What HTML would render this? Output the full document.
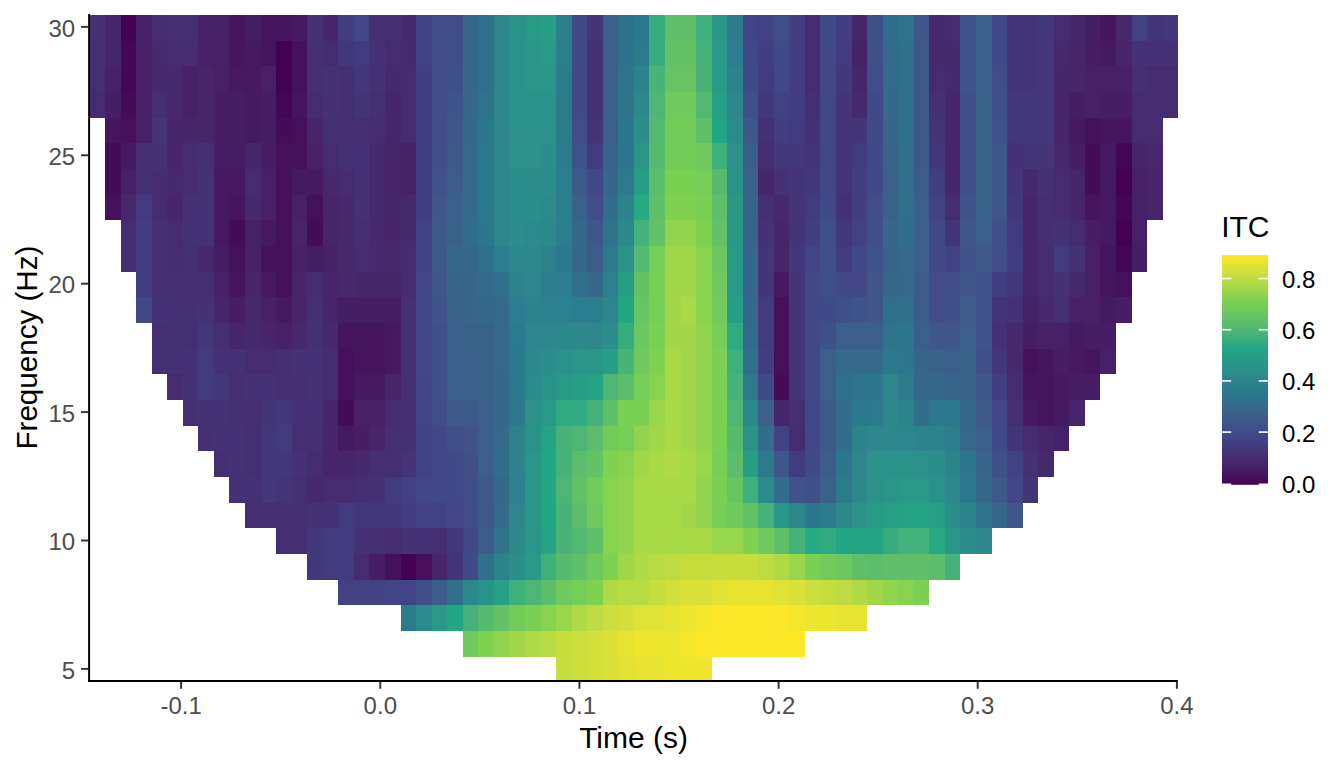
<!DOCTYPE html>
<html><head><meta charset="utf-8"><title>ITC</title>
<style>
html,body{margin:0;padding:0;background:#fff;}
body{width:1344px;height:768px;overflow:hidden;position:relative;font-family:"Liberation Sans",Arial,sans-serif;}
svg{position:absolute;left:0;top:0;}
.tick{font-size:24px;fill:#4d4d4d;}
.leg{font-size:24px;fill:#000;}
.title{font-size:30px;fill:#000;}
.ltitle{font-size:30px;fill:#000;}
</style></head><body>
<svg width="1344" height="768" viewBox="0 0 1344 768">
<defs>
<linearGradient id="vg" x1="0" y1="1" x2="0" y2="0"><stop offset="0.0000" stop-color="#440154"/><stop offset="0.0250" stop-color="#450e5a"/><stop offset="0.0500" stop-color="#451860"/><stop offset="0.0750" stop-color="#462067"/><stop offset="0.1000" stop-color="#46286d"/><stop offset="0.1250" stop-color="#452f73"/><stop offset="0.1500" stop-color="#44367a"/><stop offset="0.1750" stop-color="#433d80"/><stop offset="0.2000" stop-color="#414487"/><stop offset="0.2250" stop-color="#404b88"/><stop offset="0.2500" stop-color="#3f5189"/><stop offset="0.2750" stop-color="#3d588a"/><stop offset="0.3000" stop-color="#3b5e8b"/><stop offset="0.3250" stop-color="#38658c"/><stop offset="0.3500" stop-color="#346b8c"/><stop offset="0.3750" stop-color="#30728d"/><stop offset="0.4000" stop-color="#2a788e"/><stop offset="0.4250" stop-color="#2b7e8d"/><stop offset="0.4500" stop-color="#2c848c"/><stop offset="0.4750" stop-color="#2c8a8b"/><stop offset="0.5000" stop-color="#2b9089"/><stop offset="0.5250" stop-color="#2a9688"/><stop offset="0.5500" stop-color="#289c87"/><stop offset="0.5750" stop-color="#26a285"/><stop offset="0.6000" stop-color="#22a884"/><stop offset="0.6250" stop-color="#36ad7f"/><stop offset="0.6500" stop-color="#44b279"/><stop offset="0.6750" stop-color="#50b773"/><stop offset="0.7000" stop-color="#5abc6d"/><stop offset="0.7250" stop-color="#63c167"/><stop offset="0.7500" stop-color="#6bc760"/><stop offset="0.7750" stop-color="#73cc59"/><stop offset="0.8000" stop-color="#7ad151"/><stop offset="0.8250" stop-color="#8dd44d"/><stop offset="0.8500" stop-color="#9fd749"/><stop offset="0.8750" stop-color="#b0da45"/><stop offset="0.9000" stop-color="#c0dd40"/><stop offset="0.9250" stop-color="#d0e03a"/><stop offset="0.9500" stop-color="#dfe234"/><stop offset="0.9750" stop-color="#eee52d"/><stop offset="1.0000" stop-color="#fde725"/></linearGradient>
</defs>
<g shape-rendering="crispEdges">
<rect x="90" y="15" width="15" height="26" fill="#453276"/>
<rect x="105" y="15" width="16" height="26" fill="#46256a"/>
<rect x="121" y="15" width="15" height="26" fill="#440154"/>
<rect x="136" y="15" width="16" height="26" fill="#462167"/>
<rect x="152" y="15" width="15" height="26" fill="#452c70"/>
<rect x="167" y="15" width="31" height="26" fill="#452f73"/>
<rect x="198" y="15" width="31" height="26" fill="#462167"/>
<rect x="229" y="15" width="16" height="26" fill="#45165f"/>
<rect x="245" y="15" width="16" height="26" fill="#461e65"/>
<rect x="261" y="15" width="31" height="26" fill="#45165f"/>
<rect x="292" y="15" width="15" height="26" fill="#461a62"/>
<rect x="307" y="15" width="16" height="26" fill="#453276"/>
<rect x="323" y="15" width="15" height="26" fill="#46256a"/>
<rect x="338" y="15" width="16" height="26" fill="#433e82"/>
<rect x="354" y="15" width="15" height="26" fill="#414787"/>
<rect x="369" y="15" width="32" height="26" fill="#452f73"/>
<rect x="401" y="15" width="15" height="26" fill="#46286d"/>
<rect x="416" y="15" width="16" height="26" fill="#424184"/>
<rect x="432" y="15" width="31" height="26" fill="#404d88"/>
<rect x="463" y="15" width="15" height="26" fill="#36688c"/>
<rect x="478" y="15" width="16" height="26" fill="#31708d"/>
<rect x="494" y="15" width="15" height="26" fill="#2c868b"/>
<rect x="509" y="15" width="16" height="26" fill="#2a9389"/>
<rect x="525" y="15" width="16" height="26" fill="#299988"/>
<rect x="541" y="15" width="15" height="26" fill="#279e86"/>
<rect x="556" y="15" width="16" height="26" fill="#2b7e8d"/>
<rect x="572" y="15" width="15" height="26" fill="#414787"/>
<rect x="587" y="15" width="16" height="26" fill="#443579"/>
<rect x="603" y="15" width="15" height="26" fill="#3b5f8b"/>
<rect x="618" y="15" width="16" height="26" fill="#31708d"/>
<rect x="634" y="15" width="15" height="26" fill="#2a798e"/>
<rect x="649" y="15" width="16" height="26" fill="#37ad7e"/>
<rect x="665" y="15" width="31" height="26" fill="#60c069"/>
<rect x="696" y="15" width="16" height="26" fill="#3eb07c"/>
<rect x="712" y="15" width="15" height="26" fill="#2a9688"/>
<rect x="727" y="15" width="16" height="26" fill="#2b7b8d"/>
<rect x="743" y="15" width="15" height="26" fill="#414487"/>
<rect x="758" y="15" width="16" height="26" fill="#424184"/>
<rect x="774" y="15" width="15" height="26" fill="#404d88"/>
<rect x="789" y="15" width="16" height="26" fill="#433e82"/>
<rect x="805" y="15" width="15" height="26" fill="#452c70"/>
<rect x="820" y="15" width="16" height="26" fill="#404a88"/>
<rect x="836" y="15" width="16" height="26" fill="#433e82"/>
<rect x="852" y="15" width="15" height="26" fill="#46256a"/>
<rect x="867" y="15" width="16" height="26" fill="#3f5089"/>
<rect x="883" y="15" width="15" height="26" fill="#336d8d"/>
<rect x="898" y="15" width="16" height="26" fill="#2f738d"/>
<rect x="914" y="15" width="15" height="26" fill="#3e568a"/>
<rect x="929" y="15" width="16" height="26" fill="#46286d"/>
<rect x="945" y="15" width="15" height="26" fill="#452c70"/>
<rect x="960" y="15" width="16" height="26" fill="#3e5389"/>
<rect x="976" y="15" width="16" height="26" fill="#3b5f8b"/>
<rect x="992" y="15" width="15" height="26" fill="#404a88"/>
<rect x="1007" y="15" width="31" height="26" fill="#443579"/>
<rect x="1038" y="15" width="16" height="26" fill="#44387c"/>
<rect x="1054" y="15" width="15" height="26" fill="#452c70"/>
<rect x="1069" y="15" width="16" height="26" fill="#46256a"/>
<rect x="1085" y="15" width="15" height="26" fill="#461e65"/>
<rect x="1100" y="15" width="16" height="26" fill="#45165f"/>
<rect x="1116" y="15" width="16" height="26" fill="#46286d"/>
<rect x="1132" y="15" width="15" height="26" fill="#424184"/>
<rect x="1147" y="15" width="16" height="26" fill="#443579"/>
<rect x="1163" y="15" width="15" height="26" fill="#44387c"/>
<rect x="90" y="41" width="15" height="25" fill="#452f73"/>
<rect x="105" y="41" width="16" height="25" fill="#46256a"/>
<rect x="121" y="41" width="15" height="25" fill="#440757"/>
<rect x="136" y="41" width="16" height="25" fill="#462167"/>
<rect x="152" y="41" width="15" height="25" fill="#46286d"/>
<rect x="167" y="41" width="31" height="25" fill="#452c70"/>
<rect x="198" y="41" width="31" height="25" fill="#462167"/>
<rect x="229" y="41" width="16" height="25" fill="#45165f"/>
<rect x="245" y="41" width="16" height="25" fill="#461a62"/>
<rect x="261" y="41" width="15" height="25" fill="#45165f"/>
<rect x="276" y="41" width="16" height="25" fill="#440154"/>
<rect x="292" y="41" width="15" height="25" fill="#45115c"/>
<rect x="307" y="41" width="16" height="25" fill="#452f73"/>
<rect x="323" y="41" width="15" height="25" fill="#452c70"/>
<rect x="338" y="41" width="16" height="25" fill="#44387c"/>
<rect x="354" y="41" width="15" height="25" fill="#433b7f"/>
<rect x="369" y="41" width="16" height="25" fill="#453276"/>
<rect x="385" y="41" width="16" height="25" fill="#452c70"/>
<rect x="401" y="41" width="15" height="25" fill="#46286d"/>
<rect x="416" y="41" width="16" height="25" fill="#424184"/>
<rect x="432" y="41" width="31" height="25" fill="#404d88"/>
<rect x="463" y="41" width="15" height="25" fill="#36688c"/>
<rect x="478" y="41" width="16" height="25" fill="#31708d"/>
<rect x="494" y="41" width="15" height="25" fill="#2c868b"/>
<rect x="509" y="41" width="16" height="25" fill="#2a9389"/>
<rect x="525" y="41" width="16" height="25" fill="#2a9688"/>
<rect x="541" y="41" width="15" height="25" fill="#299988"/>
<rect x="556" y="41" width="16" height="25" fill="#2b7e8d"/>
<rect x="572" y="41" width="15" height="25" fill="#404a88"/>
<rect x="587" y="41" width="16" height="25" fill="#453276"/>
<rect x="603" y="41" width="15" height="25" fill="#3b5f8b"/>
<rect x="618" y="41" width="16" height="25" fill="#31708d"/>
<rect x="634" y="41" width="15" height="25" fill="#2b7b8d"/>
<rect x="649" y="41" width="16" height="25" fill="#37ad7e"/>
<rect x="665" y="41" width="31" height="25" fill="#64c266"/>
<rect x="696" y="41" width="16" height="25" fill="#44b279"/>
<rect x="712" y="41" width="15" height="25" fill="#299988"/>
<rect x="727" y="41" width="16" height="25" fill="#2b7e8d"/>
<rect x="743" y="41" width="15" height="25" fill="#414787"/>
<rect x="758" y="41" width="16" height="25" fill="#433e82"/>
<rect x="774" y="41" width="15" height="25" fill="#404a88"/>
<rect x="789" y="41" width="16" height="25" fill="#433e82"/>
<rect x="805" y="41" width="15" height="25" fill="#452c70"/>
<rect x="820" y="41" width="16" height="25" fill="#414787"/>
<rect x="836" y="41" width="16" height="25" fill="#433b7f"/>
<rect x="852" y="41" width="15" height="25" fill="#462167"/>
<rect x="867" y="41" width="16" height="25" fill="#3f5089"/>
<rect x="883" y="41" width="15" height="25" fill="#356a8c"/>
<rect x="898" y="41" width="16" height="25" fill="#31708d"/>
<rect x="914" y="41" width="15" height="25" fill="#3d598a"/>
<rect x="929" y="41" width="31" height="25" fill="#46286d"/>
<rect x="960" y="41" width="16" height="25" fill="#3e5389"/>
<rect x="976" y="41" width="16" height="25" fill="#3b5f8b"/>
<rect x="992" y="41" width="15" height="25" fill="#404a88"/>
<rect x="1007" y="41" width="31" height="25" fill="#443579"/>
<rect x="1038" y="41" width="16" height="25" fill="#44387c"/>
<rect x="1054" y="41" width="15" height="25" fill="#46286d"/>
<rect x="1069" y="41" width="16" height="25" fill="#46256a"/>
<rect x="1085" y="41" width="15" height="25" fill="#461e65"/>
<rect x="1100" y="41" width="16" height="25" fill="#461a62"/>
<rect x="1116" y="41" width="16" height="25" fill="#46256a"/>
<rect x="1132" y="41" width="46" height="25" fill="#453276"/>
<rect x="90" y="66" width="15" height="26" fill="#452f73"/>
<rect x="105" y="66" width="16" height="26" fill="#462167"/>
<rect x="121" y="66" width="15" height="26" fill="#440757"/>
<rect x="136" y="66" width="16" height="26" fill="#462167"/>
<rect x="152" y="66" width="31" height="26" fill="#46286d"/>
<rect x="183" y="66" width="15" height="26" fill="#462167"/>
<rect x="198" y="66" width="16" height="26" fill="#46256a"/>
<rect x="214" y="66" width="15" height="26" fill="#462167"/>
<rect x="229" y="66" width="32" height="26" fill="#461a62"/>
<rect x="261" y="66" width="15" height="26" fill="#462167"/>
<rect x="276" y="66" width="16" height="26" fill="#440154"/>
<rect x="292" y="66" width="15" height="26" fill="#45115c"/>
<rect x="307" y="66" width="16" height="26" fill="#452f73"/>
<rect x="323" y="66" width="15" height="26" fill="#453276"/>
<rect x="338" y="66" width="16" height="26" fill="#452f73"/>
<rect x="354" y="66" width="15" height="26" fill="#44387c"/>
<rect x="369" y="66" width="16" height="26" fill="#453276"/>
<rect x="385" y="66" width="16" height="26" fill="#46286d"/>
<rect x="401" y="66" width="15" height="26" fill="#452c70"/>
<rect x="416" y="66" width="16" height="26" fill="#433e82"/>
<rect x="432" y="66" width="15" height="26" fill="#404d88"/>
<rect x="447" y="66" width="16" height="26" fill="#3f5089"/>
<rect x="463" y="66" width="15" height="26" fill="#36688c"/>
<rect x="478" y="66" width="16" height="26" fill="#31708d"/>
<rect x="494" y="66" width="15" height="26" fill="#2c868b"/>
<rect x="509" y="66" width="16" height="26" fill="#2a9389"/>
<rect x="525" y="66" width="31" height="26" fill="#2a9688"/>
<rect x="556" y="66" width="16" height="26" fill="#2b7b8d"/>
<rect x="572" y="66" width="15" height="26" fill="#404a88"/>
<rect x="587" y="66" width="16" height="26" fill="#453276"/>
<rect x="603" y="66" width="15" height="26" fill="#3b5f8b"/>
<rect x="618" y="66" width="16" height="26" fill="#2f738d"/>
<rect x="634" y="66" width="15" height="26" fill="#2c838c"/>
<rect x="649" y="66" width="16" height="26" fill="#49b476"/>
<rect x="665" y="66" width="31" height="26" fill="#67c463"/>
<rect x="696" y="66" width="16" height="26" fill="#49b476"/>
<rect x="712" y="66" width="15" height="26" fill="#289b87"/>
<rect x="727" y="66" width="16" height="26" fill="#2c838c"/>
<rect x="743" y="66" width="15" height="26" fill="#404a88"/>
<rect x="758" y="66" width="16" height="26" fill="#433b7f"/>
<rect x="774" y="66" width="15" height="26" fill="#414787"/>
<rect x="789" y="66" width="16" height="26" fill="#433e82"/>
<rect x="805" y="66" width="15" height="26" fill="#452c70"/>
<rect x="820" y="66" width="16" height="26" fill="#414787"/>
<rect x="836" y="66" width="16" height="26" fill="#44387c"/>
<rect x="852" y="66" width="15" height="26" fill="#46256a"/>
<rect x="867" y="66" width="16" height="26" fill="#404d88"/>
<rect x="883" y="66" width="15" height="26" fill="#356a8c"/>
<rect x="898" y="66" width="16" height="26" fill="#31708d"/>
<rect x="914" y="66" width="15" height="26" fill="#3d598a"/>
<rect x="929" y="66" width="16" height="26" fill="#452c70"/>
<rect x="945" y="66" width="15" height="26" fill="#46286d"/>
<rect x="960" y="66" width="16" height="26" fill="#3e5389"/>
<rect x="976" y="66" width="16" height="26" fill="#3b5f8b"/>
<rect x="992" y="66" width="15" height="26" fill="#404d88"/>
<rect x="1007" y="66" width="31" height="26" fill="#443579"/>
<rect x="1038" y="66" width="16" height="26" fill="#44387c"/>
<rect x="1054" y="66" width="31" height="26" fill="#46256a"/>
<rect x="1085" y="66" width="47" height="26" fill="#462167"/>
<rect x="1132" y="66" width="15" height="26" fill="#452f73"/>
<rect x="1147" y="66" width="31" height="26" fill="#452c70"/>
<rect x="90" y="92" width="15" height="26" fill="#452c70"/>
<rect x="105" y="92" width="16" height="26" fill="#461e65"/>
<rect x="121" y="92" width="15" height="26" fill="#450c59"/>
<rect x="136" y="92" width="16" height="26" fill="#462167"/>
<rect x="152" y="92" width="15" height="26" fill="#452f73"/>
<rect x="167" y="92" width="16" height="26" fill="#46286d"/>
<rect x="183" y="92" width="15" height="26" fill="#462167"/>
<rect x="198" y="92" width="16" height="26" fill="#46256a"/>
<rect x="214" y="92" width="31" height="26" fill="#461e65"/>
<rect x="245" y="92" width="16" height="26" fill="#461a62"/>
<rect x="261" y="92" width="15" height="26" fill="#461e65"/>
<rect x="276" y="92" width="16" height="26" fill="#440757"/>
<rect x="292" y="92" width="15" height="26" fill="#45165f"/>
<rect x="307" y="92" width="16" height="26" fill="#452c70"/>
<rect x="323" y="92" width="15" height="26" fill="#453276"/>
<rect x="338" y="92" width="16" height="26" fill="#452f73"/>
<rect x="354" y="92" width="15" height="26" fill="#443579"/>
<rect x="369" y="92" width="16" height="26" fill="#452f73"/>
<rect x="385" y="92" width="16" height="26" fill="#46256a"/>
<rect x="401" y="92" width="15" height="26" fill="#452c70"/>
<rect x="416" y="92" width="16" height="26" fill="#433e82"/>
<rect x="432" y="92" width="15" height="26" fill="#404d88"/>
<rect x="447" y="92" width="16" height="26" fill="#3e5389"/>
<rect x="463" y="92" width="15" height="26" fill="#36688c"/>
<rect x="478" y="92" width="16" height="26" fill="#2f738d"/>
<rect x="494" y="92" width="15" height="26" fill="#2c868b"/>
<rect x="509" y="92" width="47" height="26" fill="#2a9389"/>
<rect x="556" y="92" width="16" height="26" fill="#2b7b8d"/>
<rect x="572" y="92" width="15" height="26" fill="#404a88"/>
<rect x="587" y="92" width="16" height="26" fill="#453276"/>
<rect x="603" y="92" width="15" height="26" fill="#3b5f8b"/>
<rect x="618" y="92" width="16" height="26" fill="#2f738d"/>
<rect x="634" y="92" width="15" height="26" fill="#2c898b"/>
<rect x="649" y="92" width="16" height="26" fill="#4eb674"/>
<rect x="665" y="92" width="31" height="26" fill="#6fc95d"/>
<rect x="696" y="92" width="16" height="26" fill="#53b971"/>
<rect x="712" y="92" width="15" height="26" fill="#26a186"/>
<rect x="727" y="92" width="16" height="26" fill="#2c868b"/>
<rect x="743" y="92" width="15" height="26" fill="#3f5089"/>
<rect x="758" y="92" width="16" height="26" fill="#44387c"/>
<rect x="774" y="92" width="15" height="26" fill="#424184"/>
<rect x="789" y="92" width="16" height="26" fill="#433e82"/>
<rect x="805" y="92" width="15" height="26" fill="#452f73"/>
<rect x="820" y="92" width="16" height="26" fill="#414787"/>
<rect x="836" y="92" width="16" height="26" fill="#443579"/>
<rect x="852" y="92" width="15" height="26" fill="#46286d"/>
<rect x="867" y="92" width="16" height="26" fill="#404a88"/>
<rect x="883" y="92" width="15" height="26" fill="#36688c"/>
<rect x="898" y="92" width="16" height="26" fill="#31708d"/>
<rect x="914" y="92" width="15" height="26" fill="#3d598a"/>
<rect x="929" y="92" width="16" height="26" fill="#453276"/>
<rect x="945" y="92" width="15" height="26" fill="#46256a"/>
<rect x="960" y="92" width="16" height="26" fill="#3f5089"/>
<rect x="976" y="92" width="16" height="26" fill="#39628b"/>
<rect x="992" y="92" width="15" height="26" fill="#3f5089"/>
<rect x="1007" y="92" width="47" height="26" fill="#44387c"/>
<rect x="1054" y="92" width="15" height="26" fill="#46256a"/>
<rect x="1069" y="92" width="16" height="26" fill="#461e65"/>
<rect x="1085" y="92" width="15" height="26" fill="#462167"/>
<rect x="1100" y="92" width="32" height="26" fill="#461e65"/>
<rect x="1132" y="92" width="46" height="26" fill="#452c70"/>
<rect x="105" y="118" width="16" height="25" fill="#45165f"/>
<rect x="121" y="118" width="15" height="25" fill="#45115c"/>
<rect x="136" y="118" width="16" height="25" fill="#462167"/>
<rect x="152" y="118" width="15" height="25" fill="#443579"/>
<rect x="167" y="118" width="47" height="25" fill="#46256a"/>
<rect x="214" y="118" width="31" height="25" fill="#461e65"/>
<rect x="245" y="118" width="16" height="25" fill="#461a62"/>
<rect x="261" y="118" width="15" height="25" fill="#461e65"/>
<rect x="276" y="118" width="16" height="25" fill="#450c59"/>
<rect x="292" y="118" width="15" height="25" fill="#45115c"/>
<rect x="307" y="118" width="16" height="25" fill="#46256a"/>
<rect x="323" y="118" width="46" height="25" fill="#452f73"/>
<rect x="369" y="118" width="16" height="25" fill="#452c70"/>
<rect x="385" y="118" width="16" height="25" fill="#46256a"/>
<rect x="401" y="118" width="15" height="25" fill="#452c70"/>
<rect x="416" y="118" width="16" height="25" fill="#433e82"/>
<rect x="432" y="118" width="15" height="25" fill="#404d88"/>
<rect x="447" y="118" width="16" height="25" fill="#3e568a"/>
<rect x="463" y="118" width="15" height="25" fill="#36688c"/>
<rect x="478" y="118" width="16" height="25" fill="#2c768e"/>
<rect x="494" y="118" width="15" height="25" fill="#2c868b"/>
<rect x="509" y="118" width="47" height="25" fill="#2b9189"/>
<rect x="556" y="118" width="16" height="25" fill="#2b7b8d"/>
<rect x="572" y="118" width="15" height="25" fill="#404d88"/>
<rect x="587" y="118" width="16" height="25" fill="#443579"/>
<rect x="603" y="118" width="15" height="25" fill="#3b5f8b"/>
<rect x="618" y="118" width="16" height="25" fill="#2c768e"/>
<rect x="634" y="118" width="15" height="25" fill="#2b8e8a"/>
<rect x="649" y="118" width="16" height="25" fill="#53b971"/>
<rect x="665" y="118" width="31" height="25" fill="#72cb59"/>
<rect x="696" y="118" width="16" height="25" fill="#60c069"/>
<rect x="712" y="118" width="15" height="25" fill="#23a684"/>
<rect x="727" y="118" width="16" height="25" fill="#2b8b8a"/>
<rect x="743" y="118" width="15" height="25" fill="#3e568a"/>
<rect x="758" y="118" width="16" height="25" fill="#453276"/>
<rect x="774" y="118" width="15" height="25" fill="#433e82"/>
<rect x="789" y="118" width="16" height="25" fill="#433b7f"/>
<rect x="805" y="118" width="15" height="25" fill="#453276"/>
<rect x="820" y="118" width="16" height="25" fill="#414787"/>
<rect x="836" y="118" width="31" height="25" fill="#443579"/>
<rect x="867" y="118" width="16" height="25" fill="#404a88"/>
<rect x="883" y="118" width="15" height="25" fill="#38658c"/>
<rect x="898" y="118" width="16" height="25" fill="#31708d"/>
<rect x="914" y="118" width="15" height="25" fill="#3d598a"/>
<rect x="929" y="118" width="16" height="25" fill="#443579"/>
<rect x="945" y="118" width="15" height="25" fill="#46256a"/>
<rect x="960" y="118" width="16" height="25" fill="#3f5089"/>
<rect x="976" y="118" width="16" height="25" fill="#39628b"/>
<rect x="992" y="118" width="15" height="25" fill="#3e5389"/>
<rect x="1007" y="118" width="47" height="25" fill="#44387c"/>
<rect x="1054" y="118" width="15" height="25" fill="#46256a"/>
<rect x="1069" y="118" width="16" height="25" fill="#461a62"/>
<rect x="1085" y="118" width="15" height="25" fill="#45115c"/>
<rect x="1100" y="118" width="32" height="25" fill="#45165f"/>
<rect x="1132" y="118" width="31" height="25" fill="#452c70"/>
<rect x="105" y="143" width="16" height="26" fill="#450c59"/>
<rect x="121" y="143" width="15" height="26" fill="#461a62"/>
<rect x="136" y="143" width="16" height="26" fill="#452f73"/>
<rect x="152" y="143" width="15" height="26" fill="#453276"/>
<rect x="167" y="143" width="16" height="26" fill="#46256a"/>
<rect x="183" y="143" width="15" height="26" fill="#452c70"/>
<rect x="198" y="143" width="16" height="26" fill="#452f73"/>
<rect x="214" y="143" width="31" height="26" fill="#461e65"/>
<rect x="245" y="143" width="16" height="26" fill="#46256a"/>
<rect x="261" y="143" width="15" height="26" fill="#461e65"/>
<rect x="276" y="143" width="31" height="26" fill="#45115c"/>
<rect x="307" y="143" width="16" height="26" fill="#462167"/>
<rect x="323" y="143" width="15" height="26" fill="#452c70"/>
<rect x="338" y="143" width="31" height="26" fill="#453276"/>
<rect x="369" y="143" width="16" height="26" fill="#46286d"/>
<rect x="385" y="143" width="16" height="26" fill="#46256a"/>
<rect x="401" y="143" width="15" height="26" fill="#462167"/>
<rect x="416" y="143" width="16" height="26" fill="#433e82"/>
<rect x="432" y="143" width="15" height="26" fill="#3f5089"/>
<rect x="447" y="143" width="16" height="26" fill="#3d598a"/>
<rect x="463" y="143" width="15" height="26" fill="#356a8c"/>
<rect x="478" y="143" width="16" height="26" fill="#2a798e"/>
<rect x="494" y="143" width="15" height="26" fill="#2c868b"/>
<rect x="509" y="143" width="32" height="26" fill="#2b9189"/>
<rect x="541" y="143" width="15" height="26" fill="#2b8e8a"/>
<rect x="556" y="143" width="16" height="26" fill="#2b7b8d"/>
<rect x="572" y="143" width="15" height="26" fill="#3e5389"/>
<rect x="587" y="143" width="16" height="26" fill="#433b7f"/>
<rect x="603" y="143" width="15" height="26" fill="#39628b"/>
<rect x="618" y="143" width="16" height="26" fill="#2c768e"/>
<rect x="634" y="143" width="15" height="26" fill="#2a9688"/>
<rect x="649" y="143" width="16" height="26" fill="#57bb6e"/>
<rect x="665" y="143" width="31" height="26" fill="#72cb59"/>
<rect x="696" y="143" width="16" height="26" fill="#6fc95d"/>
<rect x="712" y="143" width="15" height="26" fill="#3eb07c"/>
<rect x="727" y="143" width="16" height="26" fill="#2b9189"/>
<rect x="743" y="143" width="15" height="26" fill="#3c5c8a"/>
<rect x="758" y="143" width="16" height="26" fill="#452c70"/>
<rect x="774" y="143" width="31" height="26" fill="#44387c"/>
<rect x="805" y="143" width="15" height="26" fill="#443579"/>
<rect x="820" y="143" width="16" height="26" fill="#414787"/>
<rect x="836" y="143" width="16" height="26" fill="#443579"/>
<rect x="852" y="143" width="15" height="26" fill="#433b7f"/>
<rect x="867" y="143" width="16" height="26" fill="#404a88"/>
<rect x="883" y="143" width="15" height="26" fill="#39628b"/>
<rect x="898" y="143" width="16" height="26" fill="#31708d"/>
<rect x="914" y="143" width="15" height="26" fill="#3d598a"/>
<rect x="929" y="143" width="16" height="26" fill="#44387c"/>
<rect x="945" y="143" width="15" height="26" fill="#46256a"/>
<rect x="960" y="143" width="16" height="26" fill="#3f5089"/>
<rect x="976" y="143" width="16" height="26" fill="#39628b"/>
<rect x="992" y="143" width="15" height="26" fill="#3e568a"/>
<rect x="1007" y="143" width="16" height="26" fill="#453276"/>
<rect x="1023" y="143" width="31" height="26" fill="#443579"/>
<rect x="1054" y="143" width="15" height="26" fill="#46286d"/>
<rect x="1069" y="143" width="16" height="26" fill="#461e65"/>
<rect x="1085" y="143" width="15" height="26" fill="#450c59"/>
<rect x="1100" y="143" width="16" height="26" fill="#461a62"/>
<rect x="1116" y="143" width="16" height="26" fill="#440757"/>
<rect x="1132" y="143" width="15" height="26" fill="#46256a"/>
<rect x="1147" y="143" width="16" height="26" fill="#46286d"/>
<rect x="105" y="169" width="16" height="26" fill="#450c59"/>
<rect x="121" y="169" width="15" height="26" fill="#462167"/>
<rect x="136" y="169" width="16" height="26" fill="#453276"/>
<rect x="152" y="169" width="15" height="26" fill="#452c70"/>
<rect x="167" y="169" width="16" height="26" fill="#46286d"/>
<rect x="183" y="169" width="15" height="26" fill="#452c70"/>
<rect x="198" y="169" width="16" height="26" fill="#453276"/>
<rect x="214" y="169" width="31" height="26" fill="#461a62"/>
<rect x="245" y="169" width="16" height="26" fill="#452c70"/>
<rect x="261" y="169" width="15" height="26" fill="#462167"/>
<rect x="276" y="169" width="16" height="26" fill="#45115c"/>
<rect x="292" y="169" width="31" height="26" fill="#461a62"/>
<rect x="323" y="169" width="15" height="26" fill="#46286d"/>
<rect x="338" y="169" width="16" height="26" fill="#452c70"/>
<rect x="354" y="169" width="15" height="26" fill="#453276"/>
<rect x="369" y="169" width="16" height="26" fill="#46286d"/>
<rect x="385" y="169" width="16" height="26" fill="#46256a"/>
<rect x="401" y="169" width="15" height="26" fill="#462167"/>
<rect x="416" y="169" width="16" height="26" fill="#433e82"/>
<rect x="432" y="169" width="15" height="26" fill="#3e5389"/>
<rect x="447" y="169" width="16" height="26" fill="#3c5c8a"/>
<rect x="463" y="169" width="15" height="26" fill="#356a8c"/>
<rect x="478" y="169" width="16" height="26" fill="#2a798e"/>
<rect x="494" y="169" width="15" height="26" fill="#2c868b"/>
<rect x="509" y="169" width="47" height="26" fill="#2b8e8a"/>
<rect x="556" y="169" width="16" height="26" fill="#2b7e8d"/>
<rect x="572" y="169" width="15" height="26" fill="#3d598a"/>
<rect x="587" y="169" width="16" height="26" fill="#414787"/>
<rect x="603" y="169" width="15" height="26" fill="#38658c"/>
<rect x="618" y="169" width="16" height="26" fill="#2b7b8d"/>
<rect x="634" y="169" width="15" height="26" fill="#279e86"/>
<rect x="649" y="169" width="16" height="26" fill="#5cbd6c"/>
<rect x="665" y="169" width="31" height="26" fill="#79d053"/>
<rect x="696" y="169" width="16" height="26" fill="#75ce56"/>
<rect x="712" y="169" width="15" height="26" fill="#57bb6e"/>
<rect x="727" y="169" width="16" height="26" fill="#2a9389"/>
<rect x="743" y="169" width="15" height="26" fill="#3b5f8b"/>
<rect x="758" y="169" width="16" height="26" fill="#46256a"/>
<rect x="774" y="169" width="15" height="26" fill="#453276"/>
<rect x="789" y="169" width="16" height="26" fill="#443579"/>
<rect x="805" y="169" width="15" height="26" fill="#44387c"/>
<rect x="820" y="169" width="16" height="26" fill="#414787"/>
<rect x="836" y="169" width="16" height="26" fill="#443579"/>
<rect x="852" y="169" width="15" height="26" fill="#433e82"/>
<rect x="867" y="169" width="16" height="26" fill="#404a88"/>
<rect x="883" y="169" width="15" height="26" fill="#3b5f8b"/>
<rect x="898" y="169" width="16" height="26" fill="#31708d"/>
<rect x="914" y="169" width="15" height="26" fill="#3c5c8a"/>
<rect x="929" y="169" width="16" height="26" fill="#433e82"/>
<rect x="945" y="169" width="15" height="26" fill="#46256a"/>
<rect x="960" y="169" width="16" height="26" fill="#3f5089"/>
<rect x="976" y="169" width="16" height="26" fill="#39628b"/>
<rect x="992" y="169" width="15" height="26" fill="#3e568a"/>
<rect x="1007" y="169" width="16" height="26" fill="#443579"/>
<rect x="1023" y="169" width="15" height="26" fill="#46286d"/>
<rect x="1038" y="169" width="16" height="26" fill="#453276"/>
<rect x="1054" y="169" width="15" height="26" fill="#452c70"/>
<rect x="1069" y="169" width="16" height="26" fill="#46256a"/>
<rect x="1085" y="169" width="15" height="26" fill="#450c59"/>
<rect x="1100" y="169" width="16" height="26" fill="#461a62"/>
<rect x="1116" y="169" width="16" height="26" fill="#440154"/>
<rect x="1132" y="169" width="15" height="26" fill="#462167"/>
<rect x="1147" y="169" width="16" height="26" fill="#46256a"/>
<rect x="105" y="195" width="16" height="25" fill="#45115c"/>
<rect x="121" y="195" width="15" height="25" fill="#46286d"/>
<rect x="136" y="195" width="16" height="25" fill="#433b7f"/>
<rect x="152" y="195" width="15" height="25" fill="#452c70"/>
<rect x="167" y="195" width="16" height="25" fill="#46256a"/>
<rect x="183" y="195" width="31" height="25" fill="#453276"/>
<rect x="214" y="195" width="15" height="25" fill="#461a62"/>
<rect x="229" y="195" width="16" height="25" fill="#45165f"/>
<rect x="245" y="195" width="16" height="25" fill="#46286d"/>
<rect x="261" y="195" width="15" height="25" fill="#462167"/>
<rect x="276" y="195" width="16" height="25" fill="#45115c"/>
<rect x="292" y="195" width="15" height="25" fill="#462167"/>
<rect x="307" y="195" width="16" height="25" fill="#45115c"/>
<rect x="323" y="195" width="15" height="25" fill="#46256a"/>
<rect x="338" y="195" width="16" height="25" fill="#46286d"/>
<rect x="354" y="195" width="15" height="25" fill="#453276"/>
<rect x="369" y="195" width="16" height="25" fill="#46286d"/>
<rect x="385" y="195" width="16" height="25" fill="#46256a"/>
<rect x="401" y="195" width="15" height="25" fill="#46286d"/>
<rect x="416" y="195" width="16" height="25" fill="#433e82"/>
<rect x="432" y="195" width="15" height="25" fill="#3e568a"/>
<rect x="447" y="195" width="16" height="25" fill="#3b5f8b"/>
<rect x="463" y="195" width="15" height="25" fill="#356a8c"/>
<rect x="478" y="195" width="16" height="25" fill="#2a798e"/>
<rect x="494" y="195" width="15" height="25" fill="#2c868b"/>
<rect x="509" y="195" width="32" height="25" fill="#2b8e8a"/>
<rect x="541" y="195" width="15" height="25" fill="#2b8b8a"/>
<rect x="556" y="195" width="16" height="25" fill="#2b7e8d"/>
<rect x="572" y="195" width="15" height="25" fill="#39628b"/>
<rect x="587" y="195" width="16" height="25" fill="#404d88"/>
<rect x="603" y="195" width="15" height="25" fill="#336d8d"/>
<rect x="618" y="195" width="16" height="25" fill="#2c838c"/>
<rect x="634" y="195" width="15" height="25" fill="#27a983"/>
<rect x="649" y="195" width="16" height="25" fill="#60c069"/>
<rect x="665" y="195" width="31" height="25" fill="#7fd250"/>
<rect x="696" y="195" width="16" height="25" fill="#79d053"/>
<rect x="712" y="195" width="15" height="25" fill="#60c069"/>
<rect x="727" y="195" width="16" height="25" fill="#2a9688"/>
<rect x="743" y="195" width="15" height="25" fill="#39628b"/>
<rect x="758" y="195" width="16" height="25" fill="#452f73"/>
<rect x="774" y="195" width="15" height="25" fill="#46286d"/>
<rect x="789" y="195" width="16" height="25" fill="#443579"/>
<rect x="805" y="195" width="15" height="25" fill="#433b7f"/>
<rect x="820" y="195" width="16" height="25" fill="#404a88"/>
<rect x="836" y="195" width="16" height="25" fill="#453276"/>
<rect x="852" y="195" width="15" height="25" fill="#433e82"/>
<rect x="867" y="195" width="16" height="25" fill="#404d88"/>
<rect x="883" y="195" width="15" height="25" fill="#39628b"/>
<rect x="898" y="195" width="16" height="25" fill="#31708d"/>
<rect x="914" y="195" width="15" height="25" fill="#3b5f8b"/>
<rect x="929" y="195" width="16" height="25" fill="#424184"/>
<rect x="945" y="195" width="15" height="25" fill="#452c70"/>
<rect x="960" y="195" width="16" height="25" fill="#3e5389"/>
<rect x="976" y="195" width="16" height="25" fill="#39628b"/>
<rect x="992" y="195" width="15" height="25" fill="#3e568a"/>
<rect x="1007" y="195" width="16" height="25" fill="#44387c"/>
<rect x="1023" y="195" width="15" height="25" fill="#46256a"/>
<rect x="1038" y="195" width="16" height="25" fill="#452f73"/>
<rect x="1054" y="195" width="15" height="25" fill="#452c70"/>
<rect x="1069" y="195" width="16" height="25" fill="#46256a"/>
<rect x="1085" y="195" width="15" height="25" fill="#45165f"/>
<rect x="1100" y="195" width="16" height="25" fill="#461a62"/>
<rect x="1116" y="195" width="16" height="25" fill="#440757"/>
<rect x="1132" y="195" width="15" height="25" fill="#462167"/>
<rect x="1147" y="195" width="16" height="25" fill="#46256a"/>
<rect x="121" y="220" width="15" height="26" fill="#452c70"/>
<rect x="136" y="220" width="16" height="26" fill="#433e82"/>
<rect x="152" y="220" width="15" height="26" fill="#452f73"/>
<rect x="167" y="220" width="16" height="26" fill="#452c70"/>
<rect x="183" y="220" width="31" height="26" fill="#453276"/>
<rect x="214" y="220" width="15" height="26" fill="#461a62"/>
<rect x="229" y="220" width="16" height="26" fill="#450c59"/>
<rect x="245" y="220" width="16" height="26" fill="#462167"/>
<rect x="261" y="220" width="15" height="26" fill="#461a62"/>
<rect x="276" y="220" width="16" height="26" fill="#45115c"/>
<rect x="292" y="220" width="15" height="26" fill="#46256a"/>
<rect x="307" y="220" width="16" height="26" fill="#450c59"/>
<rect x="323" y="220" width="15" height="26" fill="#46256a"/>
<rect x="338" y="220" width="16" height="26" fill="#46286d"/>
<rect x="354" y="220" width="15" height="26" fill="#452f73"/>
<rect x="369" y="220" width="16" height="26" fill="#46286d"/>
<rect x="385" y="220" width="16" height="26" fill="#46256a"/>
<rect x="401" y="220" width="15" height="26" fill="#46286d"/>
<rect x="416" y="220" width="16" height="26" fill="#424184"/>
<rect x="432" y="220" width="15" height="26" fill="#3d598a"/>
<rect x="447" y="220" width="16" height="26" fill="#39628b"/>
<rect x="463" y="220" width="15" height="26" fill="#336d8d"/>
<rect x="478" y="220" width="16" height="26" fill="#2c768e"/>
<rect x="494" y="220" width="15" height="26" fill="#2c868b"/>
<rect x="509" y="220" width="16" height="26" fill="#2b8e8a"/>
<rect x="525" y="220" width="16" height="26" fill="#2b8b8a"/>
<rect x="541" y="220" width="15" height="26" fill="#2c898b"/>
<rect x="556" y="220" width="16" height="26" fill="#2b7e8d"/>
<rect x="572" y="220" width="15" height="26" fill="#36688c"/>
<rect x="587" y="220" width="16" height="26" fill="#3e568a"/>
<rect x="603" y="220" width="15" height="26" fill="#2f738d"/>
<rect x="618" y="220" width="16" height="26" fill="#2c898b"/>
<rect x="634" y="220" width="15" height="26" fill="#44b279"/>
<rect x="649" y="220" width="16" height="26" fill="#64c266"/>
<rect x="665" y="220" width="31" height="26" fill="#90d54d"/>
<rect x="696" y="220" width="16" height="26" fill="#7fd250"/>
<rect x="712" y="220" width="15" height="26" fill="#64c266"/>
<rect x="727" y="220" width="16" height="26" fill="#2a9688"/>
<rect x="743" y="220" width="15" height="26" fill="#39628b"/>
<rect x="758" y="220" width="16" height="26" fill="#453276"/>
<rect x="774" y="220" width="15" height="26" fill="#46256a"/>
<rect x="789" y="220" width="16" height="26" fill="#443579"/>
<rect x="805" y="220" width="15" height="26" fill="#433e82"/>
<rect x="820" y="220" width="16" height="26" fill="#3f5089"/>
<rect x="836" y="220" width="16" height="26" fill="#44387c"/>
<rect x="852" y="220" width="15" height="26" fill="#424184"/>
<rect x="867" y="220" width="16" height="26" fill="#3f5089"/>
<rect x="883" y="220" width="15" height="26" fill="#38658c"/>
<rect x="898" y="220" width="16" height="26" fill="#336d8d"/>
<rect x="914" y="220" width="15" height="26" fill="#3b5f8b"/>
<rect x="929" y="220" width="16" height="26" fill="#414787"/>
<rect x="945" y="220" width="15" height="26" fill="#443579"/>
<rect x="960" y="220" width="16" height="26" fill="#3e568a"/>
<rect x="976" y="220" width="16" height="26" fill="#3b5f8b"/>
<rect x="992" y="220" width="15" height="26" fill="#3f5089"/>
<rect x="1007" y="220" width="16" height="26" fill="#433b7f"/>
<rect x="1023" y="220" width="15" height="26" fill="#46256a"/>
<rect x="1038" y="220" width="16" height="26" fill="#452f73"/>
<rect x="1054" y="220" width="15" height="26" fill="#453276"/>
<rect x="1069" y="220" width="16" height="26" fill="#452c70"/>
<rect x="1085" y="220" width="15" height="26" fill="#461e65"/>
<rect x="1100" y="220" width="16" height="26" fill="#461a62"/>
<rect x="1116" y="220" width="16" height="26" fill="#440154"/>
<rect x="1132" y="220" width="15" height="26" fill="#462167"/>
<rect x="121" y="246" width="15" height="26" fill="#452c70"/>
<rect x="136" y="246" width="16" height="26" fill="#433e82"/>
<rect x="152" y="246" width="15" height="26" fill="#452f73"/>
<rect x="167" y="246" width="16" height="26" fill="#452c70"/>
<rect x="183" y="246" width="15" height="26" fill="#452f73"/>
<rect x="198" y="246" width="16" height="26" fill="#46286d"/>
<rect x="214" y="246" width="15" height="26" fill="#461e65"/>
<rect x="229" y="246" width="16" height="26" fill="#45115c"/>
<rect x="245" y="246" width="16" height="26" fill="#462167"/>
<rect x="261" y="246" width="31" height="26" fill="#45115c"/>
<rect x="292" y="246" width="15" height="26" fill="#462167"/>
<rect x="307" y="246" width="16" height="26" fill="#461e65"/>
<rect x="323" y="246" width="15" height="26" fill="#462167"/>
<rect x="338" y="246" width="16" height="26" fill="#46286d"/>
<rect x="354" y="246" width="15" height="26" fill="#452c70"/>
<rect x="369" y="246" width="32" height="26" fill="#46286d"/>
<rect x="401" y="246" width="15" height="26" fill="#452c70"/>
<rect x="416" y="246" width="16" height="26" fill="#424184"/>
<rect x="432" y="246" width="15" height="26" fill="#3d598a"/>
<rect x="447" y="246" width="31" height="26" fill="#36688c"/>
<rect x="478" y="246" width="16" height="26" fill="#31708d"/>
<rect x="494" y="246" width="15" height="26" fill="#2b7e8d"/>
<rect x="509" y="246" width="32" height="26" fill="#2c898b"/>
<rect x="541" y="246" width="15" height="26" fill="#2b818c"/>
<rect x="556" y="246" width="16" height="26" fill="#2a798e"/>
<rect x="572" y="246" width="15" height="26" fill="#36688c"/>
<rect x="587" y="246" width="16" height="26" fill="#3c5c8a"/>
<rect x="603" y="246" width="15" height="26" fill="#2b7b8d"/>
<rect x="618" y="246" width="16" height="26" fill="#2a9389"/>
<rect x="634" y="246" width="15" height="26" fill="#53b971"/>
<rect x="649" y="246" width="16" height="26" fill="#75ce56"/>
<rect x="665" y="246" width="31" height="26" fill="#a0d749"/>
<rect x="696" y="246" width="16" height="26" fill="#88d34e"/>
<rect x="712" y="246" width="15" height="26" fill="#6bc760"/>
<rect x="727" y="246" width="16" height="26" fill="#299988"/>
<rect x="743" y="246" width="15" height="26" fill="#38658c"/>
<rect x="758" y="246" width="16" height="26" fill="#443579"/>
<rect x="774" y="246" width="15" height="26" fill="#46256a"/>
<rect x="789" y="246" width="16" height="26" fill="#44387c"/>
<rect x="805" y="246" width="15" height="26" fill="#414487"/>
<rect x="820" y="246" width="16" height="26" fill="#3f5089"/>
<rect x="836" y="246" width="16" height="26" fill="#433b7f"/>
<rect x="852" y="246" width="15" height="26" fill="#404a88"/>
<rect x="867" y="246" width="16" height="26" fill="#3e5389"/>
<rect x="883" y="246" width="15" height="26" fill="#38658c"/>
<rect x="898" y="246" width="16" height="26" fill="#356a8c"/>
<rect x="914" y="246" width="15" height="26" fill="#3b5f8b"/>
<rect x="929" y="246" width="16" height="26" fill="#404a88"/>
<rect x="945" y="246" width="15" height="26" fill="#424184"/>
<rect x="960" y="246" width="16" height="26" fill="#3e5389"/>
<rect x="976" y="246" width="16" height="26" fill="#3d598a"/>
<rect x="992" y="246" width="15" height="26" fill="#404d88"/>
<rect x="1007" y="246" width="16" height="26" fill="#433e82"/>
<rect x="1023" y="246" width="15" height="26" fill="#46256a"/>
<rect x="1038" y="246" width="16" height="26" fill="#452c70"/>
<rect x="1054" y="246" width="15" height="26" fill="#433b7f"/>
<rect x="1069" y="246" width="16" height="26" fill="#453276"/>
<rect x="1085" y="246" width="15" height="26" fill="#462167"/>
<rect x="1100" y="246" width="16" height="26" fill="#45165f"/>
<rect x="1116" y="246" width="16" height="26" fill="#440757"/>
<rect x="1132" y="246" width="15" height="26" fill="#461e65"/>
<rect x="136" y="272" width="16" height="25" fill="#433e82"/>
<rect x="152" y="272" width="62" height="25" fill="#452f73"/>
<rect x="214" y="272" width="15" height="25" fill="#462167"/>
<rect x="229" y="272" width="16" height="25" fill="#45165f"/>
<rect x="245" y="272" width="16" height="25" fill="#46256a"/>
<rect x="261" y="272" width="15" height="25" fill="#461a62"/>
<rect x="276" y="272" width="16" height="25" fill="#45115c"/>
<rect x="292" y="272" width="15" height="25" fill="#46256a"/>
<rect x="307" y="272" width="16" height="25" fill="#452c70"/>
<rect x="323" y="272" width="15" height="25" fill="#46256a"/>
<rect x="338" y="272" width="16" height="25" fill="#46286d"/>
<rect x="354" y="272" width="47" height="25" fill="#46256a"/>
<rect x="401" y="272" width="15" height="25" fill="#452c70"/>
<rect x="416" y="272" width="16" height="25" fill="#414787"/>
<rect x="432" y="272" width="15" height="25" fill="#3e568a"/>
<rect x="447" y="272" width="31" height="25" fill="#38658c"/>
<rect x="478" y="272" width="16" height="25" fill="#356a8c"/>
<rect x="494" y="272" width="15" height="25" fill="#31708d"/>
<rect x="509" y="272" width="16" height="25" fill="#2c838c"/>
<rect x="525" y="272" width="16" height="25" fill="#2c868b"/>
<rect x="541" y="272" width="31" height="25" fill="#2b7e8d"/>
<rect x="572" y="272" width="15" height="25" fill="#31708d"/>
<rect x="587" y="272" width="16" height="25" fill="#36688c"/>
<rect x="603" y="272" width="15" height="25" fill="#2b818c"/>
<rect x="618" y="272" width="16" height="25" fill="#279e86"/>
<rect x="634" y="272" width="15" height="25" fill="#64c266"/>
<rect x="649" y="272" width="16" height="25" fill="#79d053"/>
<rect x="665" y="272" width="31" height="25" fill="#a0d749"/>
<rect x="696" y="272" width="16" height="25" fill="#88d34e"/>
<rect x="712" y="272" width="15" height="25" fill="#6fc95d"/>
<rect x="727" y="272" width="16" height="25" fill="#299988"/>
<rect x="743" y="272" width="15" height="25" fill="#38658c"/>
<rect x="758" y="272" width="16" height="25" fill="#443579"/>
<rect x="774" y="272" width="15" height="25" fill="#461a62"/>
<rect x="789" y="272" width="16" height="25" fill="#443579"/>
<rect x="805" y="272" width="15" height="25" fill="#414787"/>
<rect x="820" y="272" width="16" height="25" fill="#3f5089"/>
<rect x="836" y="272" width="31" height="25" fill="#414787"/>
<rect x="867" y="272" width="16" height="25" fill="#3e568a"/>
<rect x="883" y="272" width="15" height="25" fill="#36688c"/>
<rect x="898" y="272" width="16" height="25" fill="#356a8c"/>
<rect x="914" y="272" width="15" height="25" fill="#3c5c8a"/>
<rect x="929" y="272" width="31" height="25" fill="#404d88"/>
<rect x="960" y="272" width="16" height="25" fill="#3e568a"/>
<rect x="976" y="272" width="16" height="25" fill="#3e5389"/>
<rect x="992" y="272" width="15" height="25" fill="#433e82"/>
<rect x="1007" y="272" width="16" height="25" fill="#44387c"/>
<rect x="1023" y="272" width="15" height="25" fill="#46256a"/>
<rect x="1038" y="272" width="16" height="25" fill="#452c70"/>
<rect x="1054" y="272" width="15" height="25" fill="#453276"/>
<rect x="1069" y="272" width="16" height="25" fill="#46286d"/>
<rect x="1085" y="272" width="15" height="25" fill="#462167"/>
<rect x="1100" y="272" width="16" height="25" fill="#45165f"/>
<rect x="1116" y="272" width="16" height="25" fill="#45115c"/>
<rect x="136" y="297" width="16" height="26" fill="#414787"/>
<rect x="152" y="297" width="31" height="26" fill="#453276"/>
<rect x="183" y="297" width="15" height="26" fill="#452f73"/>
<rect x="198" y="297" width="16" height="26" fill="#453276"/>
<rect x="214" y="297" width="15" height="26" fill="#46256a"/>
<rect x="229" y="297" width="16" height="26" fill="#461e65"/>
<rect x="245" y="297" width="16" height="26" fill="#46286d"/>
<rect x="261" y="297" width="15" height="26" fill="#462167"/>
<rect x="276" y="297" width="16" height="26" fill="#461a62"/>
<rect x="292" y="297" width="15" height="26" fill="#46256a"/>
<rect x="307" y="297" width="16" height="26" fill="#452f73"/>
<rect x="323" y="297" width="15" height="26" fill="#46256a"/>
<rect x="338" y="297" width="63" height="26" fill="#461e65"/>
<rect x="401" y="297" width="15" height="26" fill="#453276"/>
<rect x="416" y="297" width="16" height="26" fill="#404a88"/>
<rect x="432" y="297" width="15" height="26" fill="#3e5389"/>
<rect x="447" y="297" width="16" height="26" fill="#39628b"/>
<rect x="463" y="297" width="15" height="26" fill="#38658c"/>
<rect x="478" y="297" width="16" height="26" fill="#36688c"/>
<rect x="494" y="297" width="15" height="26" fill="#356a8c"/>
<rect x="509" y="297" width="16" height="26" fill="#2b7e8d"/>
<rect x="525" y="297" width="16" height="26" fill="#2c838c"/>
<rect x="541" y="297" width="31" height="26" fill="#2b818c"/>
<rect x="572" y="297" width="31" height="26" fill="#2b7e8d"/>
<rect x="603" y="297" width="15" height="26" fill="#2c868b"/>
<rect x="618" y="297" width="16" height="26" fill="#23a684"/>
<rect x="634" y="297" width="15" height="26" fill="#67c463"/>
<rect x="649" y="297" width="16" height="26" fill="#75ce56"/>
<rect x="665" y="297" width="16" height="26" fill="#a0d749"/>
<rect x="681" y="297" width="15" height="26" fill="#a8d947"/>
<rect x="696" y="297" width="16" height="26" fill="#88d34e"/>
<rect x="712" y="297" width="15" height="26" fill="#72cb59"/>
<rect x="727" y="297" width="16" height="26" fill="#279e86"/>
<rect x="743" y="297" width="15" height="26" fill="#36688c"/>
<rect x="758" y="297" width="16" height="26" fill="#433b7f"/>
<rect x="774" y="297" width="15" height="26" fill="#45115c"/>
<rect x="789" y="297" width="16" height="26" fill="#443579"/>
<rect x="805" y="297" width="15" height="26" fill="#414787"/>
<rect x="820" y="297" width="16" height="26" fill="#404a88"/>
<rect x="836" y="297" width="16" height="26" fill="#3f5089"/>
<rect x="852" y="297" width="15" height="26" fill="#3e5389"/>
<rect x="867" y="297" width="16" height="26" fill="#3e568a"/>
<rect x="883" y="297" width="31" height="26" fill="#31708d"/>
<rect x="914" y="297" width="15" height="26" fill="#3c5c8a"/>
<rect x="929" y="297" width="16" height="26" fill="#404d88"/>
<rect x="945" y="297" width="15" height="26" fill="#3f5089"/>
<rect x="960" y="297" width="16" height="26" fill="#3c5c8a"/>
<rect x="976" y="297" width="16" height="26" fill="#3e5389"/>
<rect x="992" y="297" width="15" height="26" fill="#443579"/>
<rect x="1007" y="297" width="16" height="26" fill="#453276"/>
<rect x="1023" y="297" width="15" height="26" fill="#462167"/>
<rect x="1038" y="297" width="16" height="26" fill="#46286d"/>
<rect x="1054" y="297" width="15" height="26" fill="#452f73"/>
<rect x="1069" y="297" width="31" height="26" fill="#462167"/>
<rect x="1100" y="297" width="16" height="26" fill="#461a62"/>
<rect x="1116" y="297" width="16" height="26" fill="#461e65"/>
<rect x="152" y="323" width="15" height="26" fill="#452f73"/>
<rect x="167" y="323" width="16" height="26" fill="#453276"/>
<rect x="183" y="323" width="15" height="26" fill="#452f73"/>
<rect x="198" y="323" width="16" height="26" fill="#44387c"/>
<rect x="214" y="323" width="15" height="26" fill="#452f73"/>
<rect x="229" y="323" width="16" height="26" fill="#46256a"/>
<rect x="245" y="323" width="16" height="26" fill="#46286d"/>
<rect x="261" y="323" width="15" height="26" fill="#46256a"/>
<rect x="276" y="323" width="16" height="26" fill="#462167"/>
<rect x="292" y="323" width="15" height="26" fill="#46286d"/>
<rect x="307" y="323" width="16" height="26" fill="#452f73"/>
<rect x="323" y="323" width="15" height="26" fill="#46286d"/>
<rect x="338" y="323" width="47" height="26" fill="#45165f"/>
<rect x="385" y="323" width="16" height="26" fill="#461a62"/>
<rect x="401" y="323" width="15" height="26" fill="#453276"/>
<rect x="416" y="323" width="16" height="26" fill="#414787"/>
<rect x="432" y="323" width="15" height="26" fill="#3f5089"/>
<rect x="447" y="323" width="16" height="26" fill="#3b5f8b"/>
<rect x="463" y="323" width="31" height="26" fill="#39628b"/>
<rect x="494" y="323" width="15" height="26" fill="#356a8c"/>
<rect x="509" y="323" width="16" height="26" fill="#2b7b8d"/>
<rect x="525" y="323" width="31" height="26" fill="#2c868b"/>
<rect x="556" y="323" width="31" height="26" fill="#2c898b"/>
<rect x="587" y="323" width="16" height="26" fill="#2c868b"/>
<rect x="603" y="323" width="15" height="26" fill="#2b8e8a"/>
<rect x="618" y="323" width="16" height="26" fill="#37ad7e"/>
<rect x="634" y="323" width="15" height="26" fill="#6bc760"/>
<rect x="649" y="323" width="16" height="26" fill="#79d053"/>
<rect x="665" y="323" width="31" height="26" fill="#a0d749"/>
<rect x="696" y="323" width="16" height="26" fill="#90d54d"/>
<rect x="712" y="323" width="15" height="26" fill="#75ce56"/>
<rect x="727" y="323" width="16" height="26" fill="#30ab81"/>
<rect x="743" y="323" width="15" height="26" fill="#356a8c"/>
<rect x="758" y="323" width="16" height="26" fill="#433b7f"/>
<rect x="774" y="323" width="15" height="26" fill="#45115c"/>
<rect x="789" y="323" width="16" height="26" fill="#443579"/>
<rect x="805" y="323" width="15" height="26" fill="#414787"/>
<rect x="820" y="323" width="16" height="26" fill="#3f5089"/>
<rect x="836" y="323" width="47" height="26" fill="#3b5f8b"/>
<rect x="883" y="323" width="15" height="26" fill="#2f738d"/>
<rect x="898" y="323" width="16" height="26" fill="#2c768e"/>
<rect x="914" y="323" width="15" height="26" fill="#3b5f8b"/>
<rect x="929" y="323" width="31" height="26" fill="#3e568a"/>
<rect x="960" y="323" width="16" height="26" fill="#3b5f8b"/>
<rect x="976" y="323" width="16" height="26" fill="#3e5389"/>
<rect x="992" y="323" width="15" height="26" fill="#453276"/>
<rect x="1007" y="323" width="16" height="26" fill="#46286d"/>
<rect x="1023" y="323" width="15" height="26" fill="#461e65"/>
<rect x="1038" y="323" width="31" height="26" fill="#462167"/>
<rect x="1069" y="323" width="16" height="26" fill="#461a62"/>
<rect x="1085" y="323" width="31" height="26" fill="#461e65"/>
<rect x="152" y="349" width="15" height="25" fill="#452f73"/>
<rect x="167" y="349" width="31" height="25" fill="#453276"/>
<rect x="198" y="349" width="16" height="25" fill="#433b7f"/>
<rect x="214" y="349" width="31" height="25" fill="#453276"/>
<rect x="245" y="349" width="31" height="25" fill="#452c70"/>
<rect x="276" y="349" width="16" height="25" fill="#452f73"/>
<rect x="292" y="349" width="31" height="25" fill="#453276"/>
<rect x="323" y="349" width="15" height="25" fill="#452c70"/>
<rect x="338" y="349" width="16" height="25" fill="#45115c"/>
<rect x="354" y="349" width="31" height="25" fill="#45165f"/>
<rect x="385" y="349" width="16" height="25" fill="#461a62"/>
<rect x="401" y="349" width="15" height="25" fill="#453276"/>
<rect x="416" y="349" width="16" height="25" fill="#414787"/>
<rect x="432" y="349" width="15" height="25" fill="#3f5089"/>
<rect x="447" y="349" width="31" height="25" fill="#3b5f8b"/>
<rect x="478" y="349" width="16" height="25" fill="#39628b"/>
<rect x="494" y="349" width="15" height="25" fill="#356a8c"/>
<rect x="509" y="349" width="16" height="25" fill="#2a798e"/>
<rect x="525" y="349" width="16" height="25" fill="#2c898b"/>
<rect x="541" y="349" width="15" height="25" fill="#2b8e8a"/>
<rect x="556" y="349" width="16" height="25" fill="#2a9389"/>
<rect x="572" y="349" width="31" height="25" fill="#2a9688"/>
<rect x="603" y="349" width="15" height="25" fill="#279e86"/>
<rect x="618" y="349" width="16" height="25" fill="#49b476"/>
<rect x="634" y="349" width="15" height="25" fill="#6fc95d"/>
<rect x="649" y="349" width="16" height="25" fill="#7fd250"/>
<rect x="665" y="349" width="16" height="25" fill="#a8d947"/>
<rect x="681" y="349" width="15" height="25" fill="#a0d749"/>
<rect x="696" y="349" width="16" height="25" fill="#90d54d"/>
<rect x="712" y="349" width="15" height="25" fill="#79d053"/>
<rect x="727" y="349" width="16" height="25" fill="#3eb07c"/>
<rect x="743" y="349" width="15" height="25" fill="#31708d"/>
<rect x="758" y="349" width="16" height="25" fill="#433e82"/>
<rect x="774" y="349" width="15" height="25" fill="#45115c"/>
<rect x="789" y="349" width="16" height="25" fill="#443579"/>
<rect x="805" y="349" width="15" height="25" fill="#414787"/>
<rect x="820" y="349" width="16" height="25" fill="#3b5f8b"/>
<rect x="836" y="349" width="47" height="25" fill="#356a8c"/>
<rect x="883" y="349" width="15" height="25" fill="#2a798e"/>
<rect x="898" y="349" width="16" height="25" fill="#2c768e"/>
<rect x="914" y="349" width="15" height="25" fill="#38658c"/>
<rect x="929" y="349" width="16" height="25" fill="#39628b"/>
<rect x="945" y="349" width="15" height="25" fill="#3b5f8b"/>
<rect x="960" y="349" width="16" height="25" fill="#39628b"/>
<rect x="976" y="349" width="16" height="25" fill="#3f5089"/>
<rect x="992" y="349" width="15" height="25" fill="#44387c"/>
<rect x="1007" y="349" width="16" height="25" fill="#46286d"/>
<rect x="1023" y="349" width="15" height="25" fill="#45115c"/>
<rect x="1038" y="349" width="16" height="25" fill="#45165f"/>
<rect x="1054" y="349" width="15" height="25" fill="#461e65"/>
<rect x="1069" y="349" width="16" height="25" fill="#461a62"/>
<rect x="1085" y="349" width="15" height="25" fill="#45165f"/>
<rect x="1100" y="349" width="16" height="25" fill="#462167"/>
<rect x="167" y="374" width="16" height="26" fill="#452c70"/>
<rect x="183" y="374" width="15" height="26" fill="#453276"/>
<rect x="198" y="374" width="16" height="26" fill="#433b7f"/>
<rect x="214" y="374" width="15" height="26" fill="#44387c"/>
<rect x="229" y="374" width="16" height="26" fill="#452f73"/>
<rect x="245" y="374" width="31" height="26" fill="#453276"/>
<rect x="276" y="374" width="31" height="26" fill="#452f73"/>
<rect x="307" y="374" width="16" height="26" fill="#453276"/>
<rect x="323" y="374" width="15" height="26" fill="#452c70"/>
<rect x="338" y="374" width="16" height="26" fill="#45115c"/>
<rect x="354" y="374" width="31" height="26" fill="#461a62"/>
<rect x="385" y="374" width="16" height="26" fill="#46256a"/>
<rect x="401" y="374" width="15" height="26" fill="#452f73"/>
<rect x="416" y="374" width="16" height="26" fill="#414487"/>
<rect x="432" y="374" width="15" height="26" fill="#3f5089"/>
<rect x="447" y="374" width="31" height="26" fill="#3b5f8b"/>
<rect x="478" y="374" width="16" height="26" fill="#39628b"/>
<rect x="494" y="374" width="15" height="26" fill="#36688c"/>
<rect x="509" y="374" width="16" height="26" fill="#2a798e"/>
<rect x="525" y="374" width="16" height="26" fill="#2b8b8a"/>
<rect x="541" y="374" width="15" height="26" fill="#2a9389"/>
<rect x="556" y="374" width="16" height="26" fill="#299988"/>
<rect x="572" y="374" width="15" height="26" fill="#279e86"/>
<rect x="587" y="374" width="16" height="26" fill="#25a485"/>
<rect x="603" y="374" width="15" height="26" fill="#4eb674"/>
<rect x="618" y="374" width="16" height="26" fill="#5cbd6c"/>
<rect x="634" y="374" width="15" height="26" fill="#75ce56"/>
<rect x="649" y="374" width="16" height="26" fill="#88d34e"/>
<rect x="665" y="374" width="16" height="26" fill="#a8d947"/>
<rect x="681" y="374" width="15" height="26" fill="#a0d749"/>
<rect x="696" y="374" width="16" height="26" fill="#90d54d"/>
<rect x="712" y="374" width="15" height="26" fill="#79d053"/>
<rect x="727" y="374" width="16" height="26" fill="#44b279"/>
<rect x="743" y="374" width="15" height="26" fill="#2b7b8d"/>
<rect x="758" y="374" width="16" height="26" fill="#404a88"/>
<rect x="774" y="374" width="15" height="26" fill="#450c59"/>
<rect x="789" y="374" width="16" height="26" fill="#443579"/>
<rect x="805" y="374" width="15" height="26" fill="#414787"/>
<rect x="820" y="374" width="16" height="26" fill="#3b5f8b"/>
<rect x="836" y="374" width="16" height="26" fill="#31708d"/>
<rect x="852" y="374" width="15" height="26" fill="#2f738d"/>
<rect x="867" y="374" width="16" height="26" fill="#2c768e"/>
<rect x="883" y="374" width="15" height="26" fill="#2c868b"/>
<rect x="898" y="374" width="16" height="26" fill="#2b7b8d"/>
<rect x="914" y="374" width="31" height="26" fill="#36688c"/>
<rect x="945" y="374" width="15" height="26" fill="#38658c"/>
<rect x="960" y="374" width="16" height="26" fill="#39628b"/>
<rect x="976" y="374" width="16" height="26" fill="#3e568a"/>
<rect x="992" y="374" width="15" height="26" fill="#433e82"/>
<rect x="1007" y="374" width="16" height="26" fill="#452c70"/>
<rect x="1023" y="374" width="31" height="26" fill="#45165f"/>
<rect x="1054" y="374" width="15" height="26" fill="#461a62"/>
<rect x="1069" y="374" width="31" height="26" fill="#461e65"/>
<rect x="183" y="400" width="15" height="26" fill="#452f73"/>
<rect x="198" y="400" width="31" height="26" fill="#453276"/>
<rect x="229" y="400" width="32" height="26" fill="#452f73"/>
<rect x="261" y="400" width="15" height="26" fill="#443579"/>
<rect x="276" y="400" width="16" height="26" fill="#44387c"/>
<rect x="292" y="400" width="31" height="26" fill="#453276"/>
<rect x="323" y="400" width="15" height="26" fill="#46256a"/>
<rect x="338" y="400" width="16" height="26" fill="#450c59"/>
<rect x="354" y="400" width="31" height="26" fill="#462167"/>
<rect x="385" y="400" width="16" height="26" fill="#452c70"/>
<rect x="401" y="400" width="15" height="26" fill="#452f73"/>
<rect x="416" y="400" width="16" height="26" fill="#414487"/>
<rect x="432" y="400" width="15" height="26" fill="#404d88"/>
<rect x="447" y="400" width="31" height="26" fill="#3d598a"/>
<rect x="478" y="400" width="16" height="26" fill="#3b5f8b"/>
<rect x="494" y="400" width="15" height="26" fill="#36688c"/>
<rect x="509" y="400" width="16" height="26" fill="#2a798e"/>
<rect x="525" y="400" width="16" height="26" fill="#2b9189"/>
<rect x="541" y="400" width="15" height="26" fill="#289b87"/>
<rect x="556" y="400" width="31" height="26" fill="#30ab81"/>
<rect x="587" y="400" width="16" height="26" fill="#44b279"/>
<rect x="603" y="400" width="15" height="26" fill="#60c069"/>
<rect x="618" y="400" width="31" height="26" fill="#79d053"/>
<rect x="649" y="400" width="16" height="26" fill="#98d64b"/>
<rect x="665" y="400" width="16" height="26" fill="#a8d947"/>
<rect x="681" y="400" width="15" height="26" fill="#a0d749"/>
<rect x="696" y="400" width="16" height="26" fill="#90d54d"/>
<rect x="712" y="400" width="15" height="26" fill="#79d053"/>
<rect x="727" y="400" width="16" height="26" fill="#4eb674"/>
<rect x="743" y="400" width="15" height="26" fill="#2c898b"/>
<rect x="758" y="400" width="16" height="26" fill="#3b5f8b"/>
<rect x="774" y="400" width="15" height="26" fill="#46256a"/>
<rect x="789" y="400" width="16" height="26" fill="#452f73"/>
<rect x="805" y="400" width="15" height="26" fill="#414787"/>
<rect x="820" y="400" width="16" height="26" fill="#3d598a"/>
<rect x="836" y="400" width="16" height="26" fill="#336d8d"/>
<rect x="852" y="400" width="15" height="26" fill="#2a798e"/>
<rect x="867" y="400" width="16" height="26" fill="#2b7b8d"/>
<rect x="883" y="400" width="15" height="26" fill="#2c898b"/>
<rect x="898" y="400" width="16" height="26" fill="#2c838c"/>
<rect x="914" y="400" width="15" height="26" fill="#336d8d"/>
<rect x="929" y="400" width="31" height="26" fill="#2a798e"/>
<rect x="960" y="400" width="16" height="26" fill="#36688c"/>
<rect x="976" y="400" width="16" height="26" fill="#3d598a"/>
<rect x="992" y="400" width="15" height="26" fill="#414787"/>
<rect x="1007" y="400" width="16" height="26" fill="#452f73"/>
<rect x="1023" y="400" width="15" height="26" fill="#461a62"/>
<rect x="1038" y="400" width="16" height="26" fill="#45165f"/>
<rect x="1054" y="400" width="15" height="26" fill="#461a62"/>
<rect x="1069" y="400" width="16" height="26" fill="#46256a"/>
<rect x="198" y="426" width="16" height="25" fill="#452f73"/>
<rect x="214" y="426" width="31" height="25" fill="#453276"/>
<rect x="245" y="426" width="16" height="25" fill="#452f73"/>
<rect x="261" y="426" width="15" height="25" fill="#44387c"/>
<rect x="276" y="426" width="16" height="25" fill="#433b7f"/>
<rect x="292" y="426" width="31" height="25" fill="#452f73"/>
<rect x="323" y="426" width="15" height="25" fill="#46256a"/>
<rect x="338" y="426" width="16" height="25" fill="#461a62"/>
<rect x="354" y="426" width="15" height="25" fill="#461e65"/>
<rect x="369" y="426" width="16" height="25" fill="#46256a"/>
<rect x="385" y="426" width="16" height="25" fill="#452f73"/>
<rect x="401" y="426" width="15" height="25" fill="#453276"/>
<rect x="416" y="426" width="16" height="25" fill="#424184"/>
<rect x="432" y="426" width="15" height="25" fill="#414787"/>
<rect x="447" y="426" width="16" height="25" fill="#3f5089"/>
<rect x="463" y="426" width="15" height="25" fill="#3e5389"/>
<rect x="478" y="426" width="16" height="25" fill="#3b5f8b"/>
<rect x="494" y="426" width="15" height="25" fill="#356a8c"/>
<rect x="509" y="426" width="16" height="25" fill="#2b818c"/>
<rect x="525" y="426" width="16" height="25" fill="#2a9389"/>
<rect x="541" y="426" width="15" height="25" fill="#25a485"/>
<rect x="556" y="426" width="16" height="25" fill="#44b279"/>
<rect x="572" y="426" width="15" height="25" fill="#4eb674"/>
<rect x="587" y="426" width="16" height="25" fill="#5cbd6c"/>
<rect x="603" y="426" width="15" height="25" fill="#72cb59"/>
<rect x="618" y="426" width="16" height="25" fill="#75ce56"/>
<rect x="634" y="426" width="15" height="25" fill="#90d54d"/>
<rect x="649" y="426" width="16" height="25" fill="#a0d749"/>
<rect x="665" y="426" width="16" height="25" fill="#a8d947"/>
<rect x="681" y="426" width="15" height="25" fill="#a0d749"/>
<rect x="696" y="426" width="16" height="25" fill="#90d54d"/>
<rect x="712" y="426" width="15" height="25" fill="#79d053"/>
<rect x="727" y="426" width="16" height="25" fill="#57bb6e"/>
<rect x="743" y="426" width="15" height="25" fill="#2b9189"/>
<rect x="758" y="426" width="16" height="25" fill="#336d8d"/>
<rect x="774" y="426" width="15" height="25" fill="#424184"/>
<rect x="789" y="426" width="16" height="25" fill="#452c70"/>
<rect x="805" y="426" width="15" height="25" fill="#414787"/>
<rect x="820" y="426" width="16" height="25" fill="#3d598a"/>
<rect x="836" y="426" width="16" height="25" fill="#336d8d"/>
<rect x="852" y="426" width="15" height="25" fill="#2c838c"/>
<rect x="867" y="426" width="16" height="25" fill="#2c868b"/>
<rect x="883" y="426" width="15" height="25" fill="#2c898b"/>
<rect x="898" y="426" width="16" height="25" fill="#2c868b"/>
<rect x="914" y="426" width="31" height="25" fill="#2c838c"/>
<rect x="945" y="426" width="15" height="25" fill="#2b7e8d"/>
<rect x="960" y="426" width="16" height="25" fill="#356a8c"/>
<rect x="976" y="426" width="16" height="25" fill="#3b5f8b"/>
<rect x="992" y="426" width="15" height="25" fill="#404a88"/>
<rect x="1007" y="426" width="16" height="25" fill="#443579"/>
<rect x="1023" y="426" width="15" height="25" fill="#452c70"/>
<rect x="1038" y="426" width="16" height="25" fill="#46256a"/>
<rect x="1054" y="426" width="15" height="25" fill="#462167"/>
<rect x="214" y="451" width="15" height="26" fill="#452f73"/>
<rect x="229" y="451" width="16" height="26" fill="#453276"/>
<rect x="245" y="451" width="16" height="26" fill="#452f73"/>
<rect x="261" y="451" width="31" height="26" fill="#44387c"/>
<rect x="292" y="451" width="15" height="26" fill="#453276"/>
<rect x="307" y="451" width="16" height="26" fill="#452c70"/>
<rect x="323" y="451" width="31" height="26" fill="#46256a"/>
<rect x="354" y="451" width="15" height="26" fill="#46286d"/>
<rect x="369" y="451" width="32" height="26" fill="#452f73"/>
<rect x="401" y="451" width="15" height="26" fill="#443579"/>
<rect x="416" y="451" width="16" height="26" fill="#424184"/>
<rect x="432" y="451" width="15" height="26" fill="#414787"/>
<rect x="447" y="451" width="16" height="26" fill="#404a88"/>
<rect x="463" y="451" width="15" height="26" fill="#3f5089"/>
<rect x="478" y="451" width="16" height="26" fill="#3b5f8b"/>
<rect x="494" y="451" width="15" height="26" fill="#336d8d"/>
<rect x="509" y="451" width="16" height="26" fill="#2c838c"/>
<rect x="525" y="451" width="16" height="26" fill="#2a9688"/>
<rect x="541" y="451" width="15" height="26" fill="#23a684"/>
<rect x="556" y="451" width="16" height="26" fill="#44b279"/>
<rect x="572" y="451" width="15" height="26" fill="#5cbd6c"/>
<rect x="587" y="451" width="16" height="26" fill="#64c266"/>
<rect x="603" y="451" width="15" height="26" fill="#7fd250"/>
<rect x="618" y="451" width="16" height="26" fill="#88d34e"/>
<rect x="634" y="451" width="15" height="26" fill="#a0d749"/>
<rect x="649" y="451" width="16" height="26" fill="#a8d947"/>
<rect x="665" y="451" width="16" height="26" fill="#afda45"/>
<rect x="681" y="451" width="15" height="26" fill="#a8d947"/>
<rect x="696" y="451" width="16" height="26" fill="#98d64b"/>
<rect x="712" y="451" width="15" height="26" fill="#75ce56"/>
<rect x="727" y="451" width="16" height="26" fill="#5cbd6c"/>
<rect x="743" y="451" width="15" height="26" fill="#279e86"/>
<rect x="758" y="451" width="16" height="26" fill="#2b7b8d"/>
<rect x="774" y="451" width="15" height="26" fill="#3e568a"/>
<rect x="789" y="451" width="16" height="26" fill="#433b7f"/>
<rect x="805" y="451" width="15" height="26" fill="#404a88"/>
<rect x="820" y="451" width="16" height="26" fill="#3c5c8a"/>
<rect x="836" y="451" width="16" height="26" fill="#2c768e"/>
<rect x="852" y="451" width="15" height="26" fill="#2c868b"/>
<rect x="867" y="451" width="16" height="26" fill="#2b9189"/>
<rect x="883" y="451" width="31" height="26" fill="#2a9389"/>
<rect x="914" y="451" width="15" height="26" fill="#2b9189"/>
<rect x="929" y="451" width="16" height="26" fill="#2b8e8a"/>
<rect x="945" y="451" width="15" height="26" fill="#2c838c"/>
<rect x="960" y="451" width="16" height="26" fill="#2c768e"/>
<rect x="976" y="451" width="16" height="26" fill="#38658c"/>
<rect x="992" y="451" width="15" height="26" fill="#3f5089"/>
<rect x="1007" y="451" width="16" height="26" fill="#424184"/>
<rect x="1023" y="451" width="15" height="26" fill="#453276"/>
<rect x="1038" y="451" width="16" height="26" fill="#46286d"/>
<rect x="229" y="477" width="32" height="26" fill="#453276"/>
<rect x="261" y="477" width="15" height="26" fill="#44387c"/>
<rect x="276" y="477" width="16" height="26" fill="#443579"/>
<rect x="292" y="477" width="15" height="26" fill="#452f73"/>
<rect x="307" y="477" width="16" height="26" fill="#46286d"/>
<rect x="323" y="477" width="31" height="26" fill="#452c70"/>
<rect x="354" y="477" width="15" height="26" fill="#452f73"/>
<rect x="369" y="477" width="16" height="26" fill="#453276"/>
<rect x="385" y="477" width="16" height="26" fill="#433b7f"/>
<rect x="401" y="477" width="15" height="26" fill="#424184"/>
<rect x="416" y="477" width="16" height="26" fill="#414787"/>
<rect x="432" y="477" width="31" height="26" fill="#404a88"/>
<rect x="463" y="477" width="15" height="26" fill="#404d88"/>
<rect x="478" y="477" width="16" height="26" fill="#3d598a"/>
<rect x="494" y="477" width="15" height="26" fill="#36688c"/>
<rect x="509" y="477" width="16" height="26" fill="#2b818c"/>
<rect x="525" y="477" width="16" height="26" fill="#2a9688"/>
<rect x="541" y="477" width="15" height="26" fill="#23a684"/>
<rect x="556" y="477" width="16" height="26" fill="#4eb674"/>
<rect x="572" y="477" width="15" height="26" fill="#64c266"/>
<rect x="587" y="477" width="16" height="26" fill="#72cb59"/>
<rect x="603" y="477" width="15" height="26" fill="#88d34e"/>
<rect x="618" y="477" width="16" height="26" fill="#90d54d"/>
<rect x="634" y="477" width="62" height="26" fill="#a8d947"/>
<rect x="696" y="477" width="16" height="26" fill="#90d54d"/>
<rect x="712" y="477" width="15" height="26" fill="#79d053"/>
<rect x="727" y="477" width="16" height="26" fill="#67c463"/>
<rect x="743" y="477" width="15" height="26" fill="#3eb07c"/>
<rect x="758" y="477" width="16" height="26" fill="#2b8b8a"/>
<rect x="774" y="477" width="15" height="26" fill="#336d8d"/>
<rect x="789" y="477" width="16" height="26" fill="#3e5389"/>
<rect x="805" y="477" width="15" height="26" fill="#3f5089"/>
<rect x="820" y="477" width="16" height="26" fill="#39628b"/>
<rect x="836" y="477" width="16" height="26" fill="#2b7b8d"/>
<rect x="852" y="477" width="15" height="26" fill="#2c898b"/>
<rect x="867" y="477" width="16" height="26" fill="#2b9189"/>
<rect x="883" y="477" width="15" height="26" fill="#2a9688"/>
<rect x="898" y="477" width="31" height="26" fill="#299988"/>
<rect x="929" y="477" width="16" height="26" fill="#2a9389"/>
<rect x="945" y="477" width="15" height="26" fill="#2c898b"/>
<rect x="960" y="477" width="16" height="26" fill="#2a798e"/>
<rect x="976" y="477" width="16" height="26" fill="#36688c"/>
<rect x="992" y="477" width="15" height="26" fill="#3d598a"/>
<rect x="1007" y="477" width="16" height="26" fill="#414787"/>
<rect x="1023" y="477" width="15" height="26" fill="#443579"/>
<rect x="245" y="503" width="62" height="25" fill="#452f73"/>
<rect x="307" y="503" width="31" height="25" fill="#453276"/>
<rect x="338" y="503" width="16" height="25" fill="#433b7f"/>
<rect x="354" y="503" width="47" height="25" fill="#44387c"/>
<rect x="401" y="503" width="15" height="25" fill="#433e82"/>
<rect x="416" y="503" width="31" height="25" fill="#424184"/>
<rect x="447" y="503" width="16" height="25" fill="#414787"/>
<rect x="463" y="503" width="15" height="25" fill="#404d88"/>
<rect x="478" y="503" width="16" height="25" fill="#3d598a"/>
<rect x="494" y="503" width="15" height="25" fill="#356a8c"/>
<rect x="509" y="503" width="16" height="25" fill="#2c868b"/>
<rect x="525" y="503" width="16" height="25" fill="#2a9688"/>
<rect x="541" y="503" width="15" height="25" fill="#23a684"/>
<rect x="556" y="503" width="16" height="25" fill="#49b476"/>
<rect x="572" y="503" width="15" height="25" fill="#5cbd6c"/>
<rect x="587" y="503" width="16" height="25" fill="#6fc95d"/>
<rect x="603" y="503" width="15" height="25" fill="#88d34e"/>
<rect x="618" y="503" width="16" height="25" fill="#90d54d"/>
<rect x="634" y="503" width="47" height="25" fill="#a8d947"/>
<rect x="681" y="503" width="15" height="25" fill="#a0d749"/>
<rect x="696" y="503" width="16" height="25" fill="#90d54d"/>
<rect x="712" y="503" width="15" height="25" fill="#75ce56"/>
<rect x="727" y="503" width="16" height="25" fill="#6fc95d"/>
<rect x="743" y="503" width="15" height="25" fill="#64c266"/>
<rect x="758" y="503" width="16" height="25" fill="#44b279"/>
<rect x="774" y="503" width="15" height="25" fill="#2a9688"/>
<rect x="789" y="503" width="16" height="25" fill="#2c868b"/>
<rect x="805" y="503" width="15" height="25" fill="#2c768e"/>
<rect x="820" y="503" width="16" height="25" fill="#2b7b8d"/>
<rect x="836" y="503" width="16" height="25" fill="#2c868b"/>
<rect x="852" y="503" width="15" height="25" fill="#2b9189"/>
<rect x="867" y="503" width="16" height="25" fill="#289b87"/>
<rect x="883" y="503" width="15" height="25" fill="#26a186"/>
<rect x="898" y="503" width="31" height="25" fill="#25a485"/>
<rect x="929" y="503" width="16" height="25" fill="#279e86"/>
<rect x="945" y="503" width="15" height="25" fill="#2b8e8a"/>
<rect x="960" y="503" width="16" height="25" fill="#2c838c"/>
<rect x="976" y="503" width="16" height="25" fill="#2f738d"/>
<rect x="992" y="503" width="15" height="25" fill="#36688c"/>
<rect x="1007" y="503" width="16" height="25" fill="#3e568a"/>
<rect x="276" y="528" width="31" height="26" fill="#452f73"/>
<rect x="307" y="528" width="16" height="26" fill="#44387c"/>
<rect x="323" y="528" width="31" height="26" fill="#433b7f"/>
<rect x="354" y="528" width="15" height="26" fill="#453276"/>
<rect x="369" y="528" width="16" height="26" fill="#452f73"/>
<rect x="385" y="528" width="16" height="26" fill="#452c70"/>
<rect x="401" y="528" width="31" height="26" fill="#453276"/>
<rect x="432" y="528" width="15" height="26" fill="#452f73"/>
<rect x="447" y="528" width="16" height="26" fill="#44387c"/>
<rect x="463" y="528" width="15" height="26" fill="#414787"/>
<rect x="478" y="528" width="16" height="26" fill="#3c5c8a"/>
<rect x="494" y="528" width="15" height="26" fill="#2f738d"/>
<rect x="509" y="528" width="16" height="26" fill="#2c898b"/>
<rect x="525" y="528" width="16" height="26" fill="#2a9688"/>
<rect x="541" y="528" width="15" height="26" fill="#25a485"/>
<rect x="556" y="528" width="16" height="26" fill="#49b476"/>
<rect x="572" y="528" width="15" height="26" fill="#53b971"/>
<rect x="587" y="528" width="16" height="26" fill="#60c069"/>
<rect x="603" y="528" width="15" height="26" fill="#88d34e"/>
<rect x="618" y="528" width="16" height="26" fill="#90d54d"/>
<rect x="634" y="528" width="78" height="26" fill="#a8d947"/>
<rect x="712" y="528" width="31" height="26" fill="#98d64b"/>
<rect x="743" y="528" width="15" height="26" fill="#7fd250"/>
<rect x="758" y="528" width="16" height="26" fill="#6fc95d"/>
<rect x="774" y="528" width="15" height="26" fill="#60c069"/>
<rect x="789" y="528" width="16" height="26" fill="#44b279"/>
<rect x="805" y="528" width="15" height="26" fill="#27a983"/>
<rect x="820" y="528" width="16" height="26" fill="#30ab81"/>
<rect x="836" y="528" width="16" height="26" fill="#23a684"/>
<rect x="852" y="528" width="15" height="26" fill="#25a485"/>
<rect x="867" y="528" width="16" height="26" fill="#23a684"/>
<rect x="883" y="528" width="15" height="26" fill="#37ad7e"/>
<rect x="898" y="528" width="31" height="26" fill="#44b279"/>
<rect x="929" y="528" width="16" height="26" fill="#27a983"/>
<rect x="945" y="528" width="15" height="26" fill="#2a9688"/>
<rect x="960" y="528" width="16" height="26" fill="#2b8e8a"/>
<rect x="976" y="528" width="16" height="26" fill="#2c868b"/>
<rect x="307" y="554" width="16" height="26" fill="#44387c"/>
<rect x="323" y="554" width="31" height="26" fill="#433b7f"/>
<rect x="354" y="554" width="15" height="26" fill="#452c70"/>
<rect x="369" y="554" width="16" height="26" fill="#461e65"/>
<rect x="385" y="554" width="16" height="26" fill="#45115c"/>
<rect x="401" y="554" width="15" height="26" fill="#440154"/>
<rect x="416" y="554" width="16" height="26" fill="#45115c"/>
<rect x="432" y="554" width="15" height="26" fill="#46256a"/>
<rect x="447" y="554" width="16" height="26" fill="#443579"/>
<rect x="463" y="554" width="15" height="26" fill="#404a88"/>
<rect x="478" y="554" width="16" height="26" fill="#31708d"/>
<rect x="494" y="554" width="15" height="26" fill="#2c838c"/>
<rect x="509" y="554" width="16" height="26" fill="#2b8e8a"/>
<rect x="525" y="554" width="16" height="26" fill="#299988"/>
<rect x="541" y="554" width="15" height="26" fill="#3eb07c"/>
<rect x="556" y="554" width="16" height="26" fill="#57bb6e"/>
<rect x="572" y="554" width="15" height="26" fill="#60c069"/>
<rect x="587" y="554" width="16" height="26" fill="#6fc95d"/>
<rect x="603" y="554" width="15" height="26" fill="#7fd250"/>
<rect x="618" y="554" width="16" height="26" fill="#a0d749"/>
<rect x="634" y="554" width="15" height="26" fill="#afda45"/>
<rect x="649" y="554" width="16" height="26" fill="#b6db43"/>
<rect x="665" y="554" width="16" height="26" fill="#bedc41"/>
<rect x="681" y="554" width="77" height="26" fill="#c5de3e"/>
<rect x="758" y="554" width="16" height="26" fill="#bedc41"/>
<rect x="774" y="554" width="15" height="26" fill="#afda45"/>
<rect x="789" y="554" width="16" height="26" fill="#98d64b"/>
<rect x="805" y="554" width="15" height="26" fill="#79d053"/>
<rect x="820" y="554" width="16" height="26" fill="#72cb59"/>
<rect x="836" y="554" width="16" height="26" fill="#6bc760"/>
<rect x="852" y="554" width="15" height="26" fill="#60c069"/>
<rect x="867" y="554" width="16" height="26" fill="#5cbd6c"/>
<rect x="883" y="554" width="46" height="26" fill="#60c069"/>
<rect x="929" y="554" width="16" height="26" fill="#5cbd6c"/>
<rect x="945" y="554" width="15" height="26" fill="#44b279"/>
<rect x="338" y="580" width="47" height="25" fill="#424184"/>
<rect x="385" y="580" width="31" height="25" fill="#414487"/>
<rect x="416" y="580" width="16" height="25" fill="#404d88"/>
<rect x="432" y="580" width="15" height="25" fill="#3c5c8a"/>
<rect x="447" y="580" width="16" height="25" fill="#31708d"/>
<rect x="463" y="580" width="15" height="25" fill="#2c898b"/>
<rect x="478" y="580" width="16" height="25" fill="#2a9389"/>
<rect x="494" y="580" width="15" height="25" fill="#26a186"/>
<rect x="509" y="580" width="16" height="25" fill="#3eb07c"/>
<rect x="525" y="580" width="16" height="25" fill="#4eb674"/>
<rect x="541" y="580" width="15" height="25" fill="#5cbd6c"/>
<rect x="556" y="580" width="16" height="25" fill="#6fc95d"/>
<rect x="572" y="580" width="15" height="25" fill="#75ce56"/>
<rect x="587" y="580" width="16" height="25" fill="#7fd250"/>
<rect x="603" y="580" width="15" height="25" fill="#afda45"/>
<rect x="618" y="580" width="31" height="25" fill="#b6db43"/>
<rect x="649" y="580" width="16" height="25" fill="#c5de3e"/>
<rect x="665" y="580" width="16" height="25" fill="#d3e039"/>
<rect x="681" y="580" width="31" height="25" fill="#dae137"/>
<rect x="712" y="580" width="15" height="25" fill="#e0e234"/>
<rect x="727" y="580" width="47" height="25" fill="#e7e331"/>
<rect x="774" y="580" width="15" height="25" fill="#e0e234"/>
<rect x="789" y="580" width="16" height="25" fill="#dae137"/>
<rect x="805" y="580" width="15" height="25" fill="#ccdf3c"/>
<rect x="820" y="580" width="16" height="25" fill="#c5de3e"/>
<rect x="836" y="580" width="16" height="25" fill="#bedc41"/>
<rect x="852" y="580" width="15" height="25" fill="#afda45"/>
<rect x="867" y="580" width="16" height="25" fill="#a0d749"/>
<rect x="883" y="580" width="15" height="25" fill="#90d54d"/>
<rect x="898" y="580" width="16" height="25" fill="#88d34e"/>
<rect x="914" y="580" width="15" height="25" fill="#79d053"/>
<rect x="401" y="605" width="15" height="26" fill="#2b7b8d"/>
<rect x="416" y="605" width="16" height="26" fill="#2b8b8a"/>
<rect x="432" y="605" width="15" height="26" fill="#299988"/>
<rect x="447" y="605" width="16" height="26" fill="#23a684"/>
<rect x="463" y="605" width="15" height="26" fill="#44b279"/>
<rect x="478" y="605" width="16" height="26" fill="#57bb6e"/>
<rect x="494" y="605" width="15" height="26" fill="#64c266"/>
<rect x="509" y="605" width="16" height="26" fill="#72cb59"/>
<rect x="525" y="605" width="16" height="26" fill="#79d053"/>
<rect x="541" y="605" width="15" height="26" fill="#88d34e"/>
<rect x="556" y="605" width="16" height="26" fill="#98d64b"/>
<rect x="572" y="605" width="15" height="26" fill="#afda45"/>
<rect x="587" y="605" width="16" height="26" fill="#bedc41"/>
<rect x="603" y="605" width="15" height="26" fill="#ccdf3c"/>
<rect x="618" y="605" width="16" height="26" fill="#d3e039"/>
<rect x="634" y="605" width="31" height="26" fill="#e0e234"/>
<rect x="665" y="605" width="16" height="26" fill="#e7e331"/>
<rect x="681" y="605" width="15" height="26" fill="#eee52e"/>
<rect x="696" y="605" width="16" height="26" fill="#f4e62a"/>
<rect x="712" y="605" width="77" height="26" fill="#fbe726"/>
<rect x="789" y="605" width="16" height="26" fill="#f4e62a"/>
<rect x="805" y="605" width="31" height="26" fill="#eee52e"/>
<rect x="836" y="605" width="31" height="26" fill="#e7e331"/>
<rect x="463" y="631" width="15" height="26" fill="#6fc95d"/>
<rect x="478" y="631" width="16" height="26" fill="#7fd250"/>
<rect x="494" y="631" width="15" height="26" fill="#90d54d"/>
<rect x="509" y="631" width="16" height="26" fill="#a0d749"/>
<rect x="525" y="631" width="16" height="26" fill="#afda45"/>
<rect x="541" y="631" width="15" height="26" fill="#b6db43"/>
<rect x="556" y="631" width="16" height="26" fill="#c5de3e"/>
<rect x="572" y="631" width="15" height="26" fill="#ccdf3c"/>
<rect x="587" y="631" width="16" height="26" fill="#d3e039"/>
<rect x="603" y="631" width="15" height="26" fill="#dae137"/>
<rect x="618" y="631" width="16" height="26" fill="#e7e331"/>
<rect x="634" y="631" width="47" height="26" fill="#eee52e"/>
<rect x="681" y="631" width="15" height="26" fill="#f4e62a"/>
<rect x="696" y="631" width="109" height="26" fill="#fbe726"/>
<rect x="556" y="657" width="16" height="24" fill="#c5de3e"/>
<rect x="572" y="657" width="15" height="24" fill="#ccdf3c"/>
<rect x="587" y="657" width="16" height="24" fill="#d3e039"/>
<rect x="603" y="657" width="15" height="24" fill="#dae137"/>
<rect x="618" y="657" width="16" height="24" fill="#e0e234"/>
<rect x="634" y="657" width="31" height="24" fill="#e7e331"/>
<rect x="665" y="657" width="47" height="24" fill="#eee52e"/>
</g>
<!-- axes -->
<g stroke="#000" stroke-width="1.95" fill="none">
<line x1="89.1" y1="14" x2="89.1" y2="681.8"/>
<line x1="88.2" y1="680.9" x2="1177.8" y2="680.9"/>
</g>
<g stroke="#333" stroke-width="1.95" fill="none">
<line x1="81" y1="26.9" x2="88.2" y2="26.9"/><line x1="81" y1="155.3" x2="88.2" y2="155.3"/><line x1="81" y1="283.7" x2="88.2" y2="283.7"/><line x1="81" y1="412.1" x2="88.2" y2="412.1"/><line x1="81" y1="540.5" x2="88.2" y2="540.5"/><line x1="81" y1="668.9" x2="88.2" y2="668.9"/>
<line x1="181.1" y1="681.8" x2="181.1" y2="688.8"/><line x1="380.3" y1="681.8" x2="380.3" y2="688.8"/><line x1="579.4" y1="681.8" x2="579.4" y2="688.8"/><line x1="778.6" y1="681.8" x2="778.6" y2="688.8"/><line x1="977.7" y1="681.8" x2="977.7" y2="688.8"/><line x1="1176.9" y1="681.8" x2="1176.9" y2="688.8"/>
</g>
<g class="tick" text-anchor="end">
<text x="75.1" y="36.6">30</text><text x="75.1" y="165.0">25</text><text x="75.1" y="293.4">20</text><text x="75.1" y="421.8">15</text><text x="75.1" y="550.2">10</text><text x="75.1" y="678.6">5</text>
</g>
<g class="tick" text-anchor="middle">
<text x="181.1" y="714">-0.1</text><text x="380.3" y="714">0.0</text><text x="579.4" y="714">0.1</text><text x="778.6" y="714">0.2</text><text x="977.7" y="714">0.3</text><text x="1176.9" y="714">0.4</text>
</g>
<text class="title" x="633.6" y="747.9" text-anchor="middle">Time (s)</text>
<text class="title" style="font-size:29.6px" transform="translate(37.3,347.6) rotate(-90)" text-anchor="middle">Frequency (Hz)</text>
<!-- legend -->
<text class="ltitle" x="1221.2" y="237">ITC</text>
<rect x="1222" y="255" width="46" height="229.8" fill="url(#vg)"/>
<g stroke="#fff" stroke-width="1.6">
<line x1="1222" y1="278.5" x2="1231.2" y2="278.5"/><line x1="1258.8" y1="278.5" x2="1268" y2="278.5"/>
<line x1="1222" y1="329.7" x2="1231.2" y2="329.7"/><line x1="1258.8" y1="329.7" x2="1268" y2="329.7"/>
<line x1="1222" y1="380.9" x2="1231.2" y2="380.9"/><line x1="1258.8" y1="380.9" x2="1268" y2="380.9"/>
<line x1="1222" y1="432.1" x2="1231.2" y2="432.1"/><line x1="1258.8" y1="432.1" x2="1268" y2="432.1"/>
<line x1="1222" y1="484.3" x2="1231.2" y2="484.3"/><line x1="1258.8" y1="484.3" x2="1268" y2="484.3"/>
</g>
<g class="leg">
<text x="1282" y="287.7">0.8</text><text x="1282" y="339.1">0.6</text><text x="1282" y="390.4">0.4</text><text x="1282" y="441.8">0.2</text><text x="1282" y="493.3">0.0</text>
</g>
</svg>
</body></html>
